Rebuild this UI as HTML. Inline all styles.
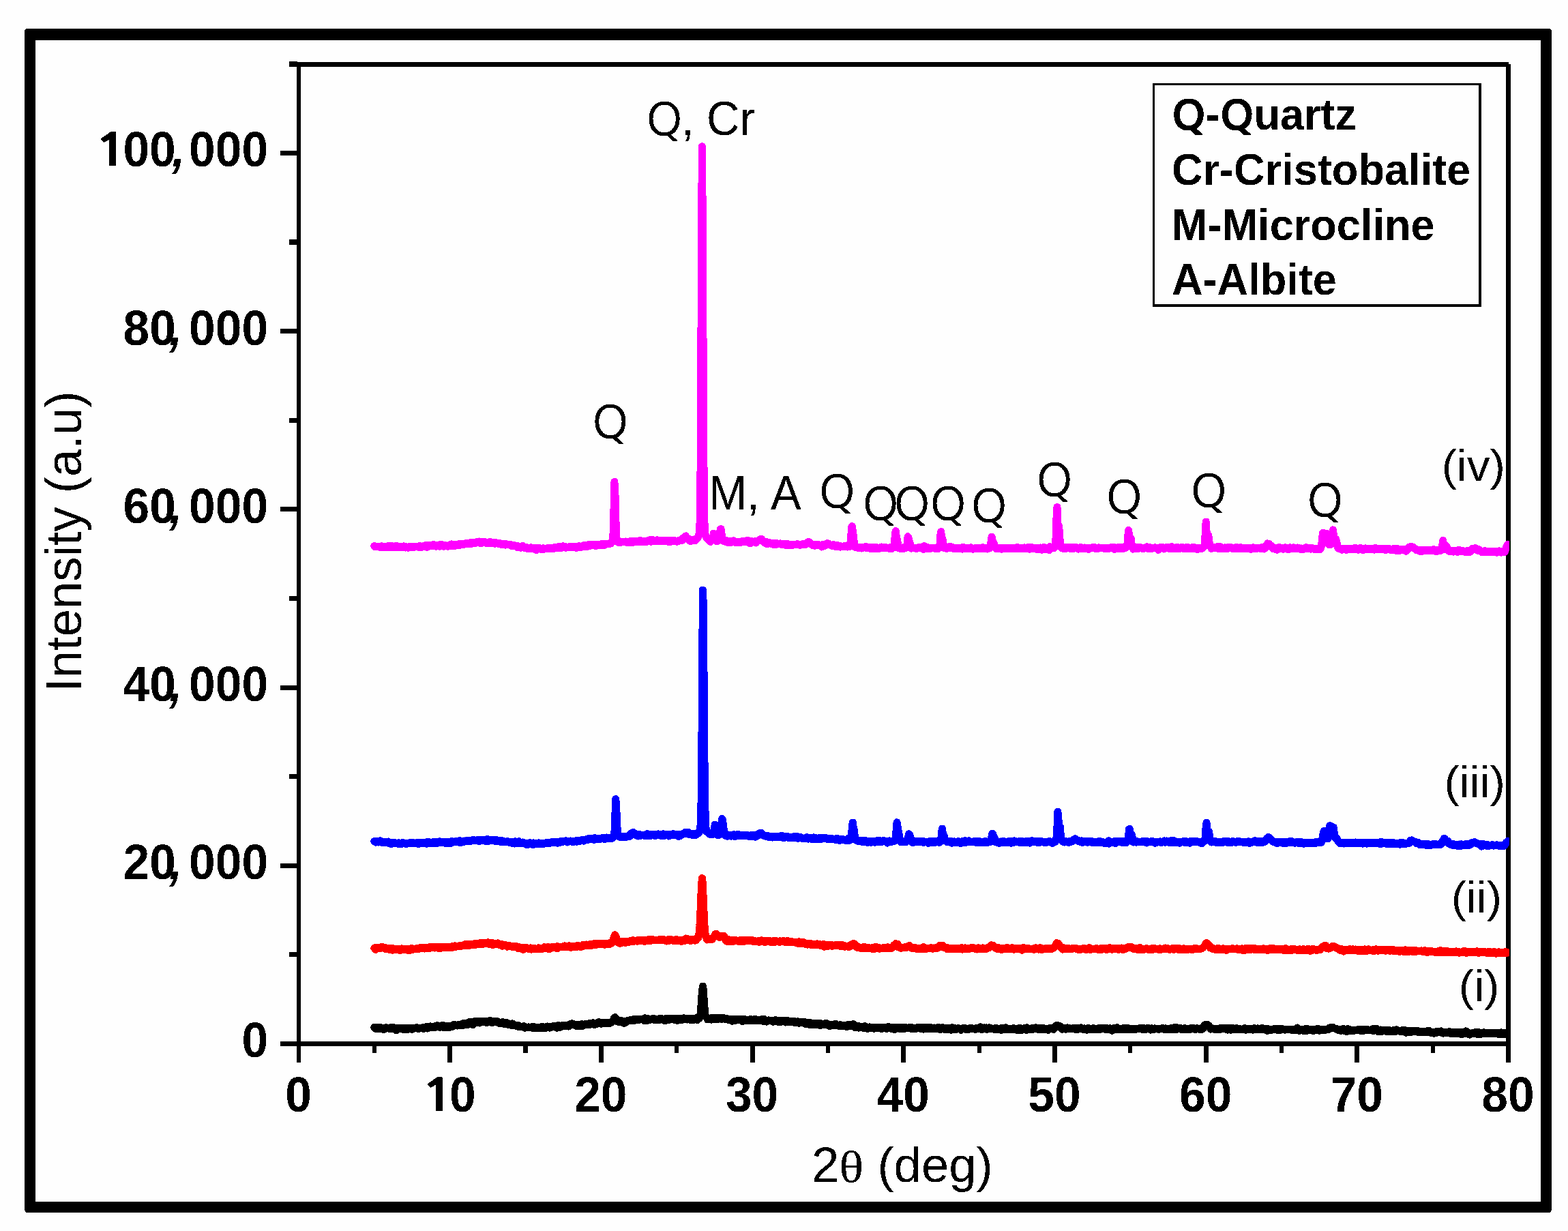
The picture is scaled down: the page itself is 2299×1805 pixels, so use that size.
<!DOCTYPE html>
<html lang="en"><head><meta charset="utf-8"><title>XRD patterns</title>
<style>
html,body{margin:0;padding:0;background:#fefefe;}
body{width:2299px;height:1805px;overflow:hidden;}
svg{display:block;}
text{font-family:"Liberation Sans",Arial,Helvetica,sans-serif;fill:#000;}
.b{font-weight:bold;}
.q{font-family:"NanumGothic","Liberation Sans",sans-serif;stroke:#000;stroke-width:0.8px;stroke-linejoin:round;}
.b .q{stroke-width:1.2px;}
.cm{font-style:italic;}
.one{font-family:"NanumGothic","Liberation Sans",sans-serif;stroke:#000;stroke-width:0.7px;}
.sym{font-family:"Liberation Serif","DejaVu Serif",serif;}
</style></head><body>
<svg width="2299" height="1805" viewBox="0 0 2299 1805">
<defs><clipPath id="plot"><rect x="430" y="80" width="1783" height="1500"/></clipPath>
<filter id="bin" x="0" y="0" width="2299" height="1805" filterUnits="userSpaceOnUse" color-interpolation-filters="sRGB"><feComponentTransfer><feFuncA type="discrete" tableValues="0 1"/></feComponentTransfer></filter></defs>
<rect x="0" y="0" width="2299" height="1805" fill="#fefefe"/>
<g filter="url(#bin)">
<path d="M41,42 H2270 Q2275,42 2275,47 V1773 Q2275,1778 2270,1778 H41 Q36,1778 36,1773 V47 Q36,42 41,42 Z M52,59 V1762 H2259 V59 Z" fill="#000" fill-rule="evenodd"/>
<g fill="#000">
<rect x="435" y="91" width="6" height="1467"/>
<rect x="411" y="1527" width="1804" height="7"/>
<rect x="424" y="91" width="1788" height="7"/>
<rect x="2208" y="94" width="7" height="1464"/>
<rect x="411" y="1527.0" width="25" height="7"/>
<rect x="424" y="1396.4" width="12" height="7"/>
<rect x="411" y="1265.8" width="25" height="7"/>
<rect x="424" y="1135.2" width="12" height="7"/>
<rect x="411" y="1004.6" width="25" height="7"/>
<rect x="424" y="874.0" width="12" height="7"/>
<rect x="411" y="743.3" width="25" height="7"/>
<rect x="424" y="612.7" width="12" height="7"/>
<rect x="411" y="482.1" width="25" height="7"/>
<rect x="424" y="351.5" width="12" height="7"/>
<rect x="411" y="220.9" width="25" height="7"/>
<rect x="424" y="90.3" width="12" height="7"/>
<rect x="545.8" y="1530" width="6" height="14"/>
<rect x="656.2" y="1530" width="7" height="28"/>
<rect x="767.5" y="1530" width="6" height="14"/>
<rect x="877.9" y="1530" width="7" height="28"/>
<rect x="989.2" y="1530" width="6" height="14"/>
<rect x="1099.6" y="1530" width="7" height="28"/>
<rect x="1210.9" y="1530" width="6" height="14"/>
<rect x="1321.3" y="1530" width="7" height="28"/>
<rect x="1432.6" y="1530" width="6" height="14"/>
<rect x="1543.0" y="1530" width="7" height="28"/>
<rect x="1654.3" y="1530" width="6" height="14"/>
<rect x="1764.6" y="1530" width="7" height="28"/>
<rect x="1876.0" y="1530" width="6" height="14"/>
<rect x="1986.3" y="1530" width="7" height="28"/>
<rect x="2097.7" y="1530" width="6" height="14"/>
<rect x="2208.0" y="1530" width="7" height="28"/>
</g>
<g fill="none" stroke-linejoin="round" stroke-linecap="round" clip-path="url(#plot)">
<path stroke="#000000" stroke-width="11" d="M548.8,1506.3 549.7,1507.6 550.6,1508.1 551.5,1506.9 552.4,1506.2 553.3,1507.3 554.2,1507.7 555.1,1508.3 555.9,1506.3 556.8,1506.3 557.7,1508.0 558.6,1507.8 559.5,1508.7 560.4,1508.3 561.3,1507.4 562.1,1507.3 563.0,1509.7 563.9,1507.3 564.8,1506.9 565.7,1506.6 566.6,1507.7 567.5,1507.8 568.4,1507.4 569.2,1507.6 570.1,1508.0 571.0,1508.3 571.9,1508.7 572.8,1508.0 573.7,1506.3 574.6,1508.5 575.4,1506.7 576.3,1507.8 577.2,1506.7 578.1,1508.0 579.0,1507.3 579.9,1508.2 580.8,1510.8 581.7,1508.0 582.5,1508.8 583.4,1507.0 584.3,1507.9 585.2,1508.7 586.1,1508.1 587.0,1508.5 587.9,1508.3 588.7,1507.3 589.6,1508.7 590.5,1507.5 591.4,1509.8 592.3,1507.8 593.2,1508.8 594.1,1508.2 595.0,1509.0 595.8,1507.7 596.7,1509.0 597.6,1508.0 598.5,1509.2 599.4,1508.6 600.3,1508.2 601.2,1507.4 602.1,1508.7 602.9,1508.4 603.8,1509.3 604.7,1507.5 605.6,1508.3 606.5,1508.2 607.4,1508.0 608.3,1507.8 609.1,1507.7 610.0,1507.0 610.9,1506.6 611.8,1507.1 612.7,1507.8 613.6,1508.5 614.5,1508.0 615.4,1508.0 616.2,1507.7 617.1,1507.5 618.0,1507.0 618.9,1507.4 619.8,1508.2 620.7,1506.3 621.6,1505.9 622.4,1508.1 623.3,1506.6 624.2,1507.1 625.1,1507.0 626.0,1505.2 626.9,1508.1 627.8,1507.5 628.7,1506.1 629.5,1506.5 630.4,1505.9 631.3,1505.0 632.2,1505.5 633.1,1505.9 634.0,1506.5 634.9,1506.1 635.7,1505.5 636.6,1506.5 637.5,1504.7 638.4,1505.9 639.3,1506.2 640.2,1504.9 641.1,1503.6 642.0,1504.3 642.8,1505.3 643.7,1505.5 644.6,1506.4 645.5,1504.2 646.4,1505.0 647.3,1505.6 648.2,1504.9 649.0,1503.0 649.9,1505.7 650.8,1506.9 651.7,1505.8 652.6,1504.2 653.5,1504.6 654.4,1505.1 655.3,1506.9 656.1,1505.3 657.0,1504.8 657.9,1506.0 658.8,1504.5 659.7,1506.1 660.6,1503.9 661.5,1503.9 662.4,1504.9 663.2,1505.4 664.1,1504.6 665.0,1504.2 665.9,1502.3 666.8,1503.1 667.7,1503.1 668.6,1503.1 669.4,1503.9 670.3,1503.0 671.2,1503.8 672.1,1503.1 673.0,1502.6 673.9,1502.8 674.8,1502.9 675.7,1503.2 676.5,1501.9 677.4,1502.0 678.3,1500.8 679.2,1503.2 680.1,1502.9 681.0,1501.4 681.9,1501.0 682.7,1500.2 683.6,1501.3 684.5,1501.1 685.4,1502.7 686.3,1500.9 687.2,1499.9 688.1,1498.3 689.0,1501.4 689.8,1500.3 690.7,1498.6 691.6,1500.0 692.5,1498.3 693.4,1502.5 694.3,1500.4 695.2,1499.8 696.0,1499.1 696.9,1497.3 697.8,1498.9 698.7,1497.6 699.6,1499.3 700.5,1496.9 701.4,1497.9 702.3,1499.6 703.1,1499.9 704.0,1497.4 704.9,1497.0 705.8,1499.0 706.7,1498.9 707.6,1497.3 708.5,1497.5 709.3,1497.5 710.2,1497.0 711.1,1497.5 712.0,1499.1 712.9,1498.6 713.8,1499.7 714.7,1497.9 715.6,1497.9 716.4,1497.2 717.3,1497.9 718.2,1497.0 719.1,1496.6 720.0,1498.7 720.9,1499.4 721.8,1499.0 722.6,1499.4 723.5,1498.6 724.4,1497.8 725.3,1498.6 726.2,1498.3 727.1,1497.8 728.0,1497.4 728.9,1497.7 729.7,1499.0 730.6,1499.3 731.5,1498.8 732.4,1500.6 733.3,1499.7 734.2,1500.1 735.1,1500.8 736.0,1499.2 736.8,1498.4 737.7,1500.8 738.6,1499.8 739.5,1501.6 740.4,1501.0 741.3,1501.7 742.2,1501.6 743.0,1499.4 743.9,1501.9 744.8,1500.9 745.7,1501.0 746.6,1501.5 747.5,1502.7 748.4,1502.9 749.3,1503.2 750.1,1501.1 751.0,1502.2 751.9,1500.9 752.8,1503.0 753.7,1503.7 754.6,1502.7 755.5,1503.8 756.3,1503.9 757.2,1504.7 758.1,1503.4 759.0,1503.5 759.9,1503.7 760.8,1506.0 761.7,1505.6 762.6,1504.7 763.4,1505.2 764.3,1505.2 765.2,1505.4 766.1,1505.2 767.0,1505.2 767.9,1504.6 768.8,1505.2 769.6,1507.3 770.5,1506.5 771.4,1506.2 772.3,1506.0 773.2,1506.4 774.1,1506.7 775.0,1505.9 775.9,1506.7 776.7,1506.8 777.6,1506.1 778.5,1506.1 779.4,1506.0 780.3,1506.0 781.2,1507.7 782.1,1504.9 782.9,1506.7 783.8,1506.5 784.7,1506.5 785.6,1507.1 786.5,1508.0 787.4,1507.1 788.3,1506.9 789.2,1506.5 790.0,1506.8 790.9,1507.7 791.8,1506.6 792.7,1505.9 793.6,1505.8 794.5,1505.9 795.4,1505.6 796.3,1507.6 797.1,1507.0 798.0,1506.4 798.9,1507.8 799.8,1505.9 800.7,1507.1 801.6,1507.0 802.5,1505.0 803.3,1504.9 804.2,1505.4 805.1,1506.8 806.0,1507.1 806.9,1504.9 807.8,1506.7 808.7,1505.4 809.6,1505.3 810.4,1505.1 811.3,1505.2 812.2,1503.9 813.1,1504.5 814.0,1504.2 814.9,1505.6 815.8,1506.9 816.6,1507.3 817.5,1504.7 818.4,1503.4 819.3,1504.5 820.2,1503.9 821.1,1506.3 822.0,1505.1 822.9,1503.9 823.7,1505.3 824.6,1504.9 825.5,1503.0 826.4,1503.8 827.3,1504.0 828.2,1504.2 829.1,1504.2 829.9,1503.8 830.8,1504.2 831.7,1503.5 832.6,1503.1 833.5,1505.0 834.4,1503.8 835.3,1503.6 836.2,1501.5 837.0,1502.3 837.9,1502.8 838.8,1500.7 839.7,1502.6 840.6,1501.5 841.5,1502.4 842.4,1502.3 843.2,1503.0 844.1,1504.1 845.0,1502.9 845.9,1504.7 846.8,1502.8 847.7,1502.6 848.6,1504.0 849.5,1502.4 850.3,1502.9 851.2,1503.9 852.1,1504.0 853.0,1501.4 853.9,1503.2 854.8,1504.3 855.7,1503.6 856.6,1502.3 857.4,1501.9 858.3,1502.0 859.2,1501.2 860.1,1501.8 861.0,1501.7 861.9,1501.7 862.8,1502.7 863.6,1501.3 864.5,1500.2 865.4,1502.2 866.3,1500.3 867.2,1500.7 868.1,1500.9 869.0,1500.6 869.9,1499.9 870.7,1500.5 871.6,1502.5 872.5,1500.0 873.4,1500.3 874.3,1501.3 875.2,1500.9 876.1,1500.9 876.9,1500.9 877.8,1498.5 878.7,1499.4 879.6,1500.2 880.5,1500.4 881.4,1501.1 882.3,1500.4 883.2,1499.8 884.0,1500.0 884.9,1499.8 885.8,1500.2 886.7,1500.5 887.6,1499.6 888.5,1499.2 889.4,1499.1 890.2,1500.7 891.1,1500.8 892.0,1500.5 892.9,1500.4 893.8,1500.3 894.7,1499.5 895.6,1499.9 896.5,1498.2 897.3,1498.4 898.2,1497.0 899.1,1496.6 900.0,1493.4 900.9,1491.9 901.8,1491.6 902.7,1493.3 903.5,1493.2 904.4,1494.9 905.3,1497.8 906.2,1496.9 907.1,1498.5 908.0,1497.7 908.9,1498.0 909.8,1496.5 910.6,1498.6 911.5,1497.5 912.4,1497.0 913.3,1499.5 914.2,1498.2 915.1,1500.5 916.0,1497.7 916.9,1497.0 917.7,1497.3 918.6,1498.4 919.5,1496.9 920.4,1497.2 921.3,1497.2 922.2,1495.9 923.1,1496.6 923.9,1496.0 924.8,1495.3 925.7,1497.0 926.6,1496.7 927.5,1496.1 928.4,1495.2 929.3,1494.2 930.2,1496.2 931.0,1495.6 931.9,1494.2 932.8,1495.5 933.7,1494.2 934.6,1495.4 935.5,1495.5 936.4,1495.6 937.2,1495.4 938.1,1495.3 939.0,1494.2 939.9,1494.8 940.8,1494.6 941.7,1494.8 942.6,1495.2 943.5,1495.5 944.3,1496.3 945.2,1492.7 946.1,1495.2 947.0,1494.7 947.9,1496.8 948.8,1495.7 949.7,1493.5 950.5,1495.2 951.4,1494.4 952.3,1495.7 953.2,1494.0 954.1,1494.8 955.0,1494.8 955.9,1494.8 956.8,1494.4 957.6,1493.3 958.5,1495.2 959.4,1495.7 960.3,1494.8 961.2,1494.0 962.1,1495.0 963.0,1495.3 963.8,1494.6 964.7,1494.8 965.6,1496.0 966.5,1493.8 967.4,1494.3 968.3,1493.1 969.2,1494.1 970.1,1494.1 970.9,1493.9 971.8,1494.1 972.7,1496.2 973.6,1494.5 974.5,1494.5 975.4,1496.5 976.3,1494.6 977.2,1493.1 978.0,1494.9 978.9,1493.8 979.8,1496.0 980.7,1493.5 981.6,1494.0 982.5,1493.1 983.4,1494.6 984.2,1493.6 985.1,1494.4 986.0,1494.1 986.9,1493.9 987.8,1495.2 988.7,1495.2 989.6,1494.4 990.5,1493.6 991.3,1493.5 992.2,1494.6 993.1,1496.4 994.0,1493.9 994.9,1493.6 995.8,1493.7 996.7,1493.3 997.5,1493.4 998.4,1494.1 999.3,1495.5 1000.2,1494.2 1001.1,1493.8 1002.0,1492.8 1002.9,1494.4 1003.8,1494.2 1004.6,1493.1 1005.5,1493.2 1006.4,1494.1 1007.3,1495.0 1008.2,1494.7 1009.1,1494.3 1010.0,1493.8 1010.8,1494.4 1011.7,1494.1 1012.6,1495.9 1013.5,1493.1 1014.4,1493.7 1015.3,1495.1 1016.2,1493.8 1017.1,1495.2 1017.9,1493.9 1018.8,1494.1 1019.7,1493.6 1020.6,1492.7 1021.5,1492.9 1022.4,1495.5 1023.3,1494.1 1024.1,1493.8 1025.0,1493.6 1025.9,1491.8 1026.8,1488.2 1027.7,1478.6 1028.6,1465.3 1029.5,1452.7 1030.4,1446.0 1031.2,1450.9 1032.1,1464.5 1033.0,1477.1 1033.9,1486.9 1034.8,1490.2 1035.7,1491.8 1036.6,1493.1 1037.4,1495.0 1038.3,1493.8 1039.2,1494.1 1040.1,1494.0 1041.0,1494.3 1041.9,1494.8 1042.8,1495.1 1043.7,1492.3 1044.5,1494.6 1045.4,1493.1 1046.3,1492.6 1047.2,1494.6 1048.1,1492.4 1049.0,1494.3 1049.9,1493.7 1050.8,1492.4 1051.6,1494.0 1052.5,1494.5 1053.4,1493.9 1054.3,1492.0 1055.2,1493.6 1056.1,1493.4 1057.0,1492.4 1057.8,1494.6 1058.7,1492.7 1059.6,1492.5 1060.5,1492.8 1061.4,1492.7 1062.3,1493.1 1063.2,1494.2 1064.1,1494.7 1064.9,1494.2 1065.8,1494.7 1066.7,1493.7 1067.6,1495.4 1068.5,1494.4 1069.4,1495.2 1070.3,1494.3 1071.1,1494.6 1072.0,1495.3 1072.9,1494.1 1073.8,1497.2 1074.7,1495.1 1075.6,1495.1 1076.5,1494.5 1077.4,1496.5 1078.2,1496.3 1079.1,1495.4 1080.0,1494.0 1080.9,1494.7 1081.8,1495.7 1082.7,1494.7 1083.6,1494.2 1084.4,1494.2 1085.3,1494.5 1086.2,1495.2 1087.1,1494.7 1088.0,1495.3 1088.9,1497.6 1089.8,1496.8 1090.7,1494.4 1091.5,1495.6 1092.4,1495.4 1093.3,1495.2 1094.2,1496.3 1095.1,1495.1 1096.0,1495.2 1096.9,1495.2 1097.7,1495.4 1098.6,1496.6 1099.5,1496.2 1100.4,1494.5 1101.3,1495.3 1102.2,1495.0 1103.1,1496.4 1104.0,1496.0 1104.8,1496.6 1105.7,1495.8 1106.6,1494.3 1107.5,1496.3 1108.4,1496.2 1109.3,1496.5 1110.2,1495.0 1111.1,1496.2 1111.9,1495.6 1112.8,1495.6 1113.7,1496.5 1114.6,1496.6 1115.5,1495.6 1116.4,1494.9 1117.3,1494.3 1118.1,1496.0 1119.0,1497.4 1119.9,1496.5 1120.8,1494.6 1121.7,1495.9 1122.6,1497.0 1123.5,1498.1 1124.4,1497.7 1125.2,1497.1 1126.1,1496.9 1127.0,1495.9 1127.9,1496.5 1128.8,1496.6 1129.7,1496.2 1130.6,1497.0 1131.4,1496.6 1132.3,1497.3 1133.2,1498.2 1134.1,1497.6 1135.0,1497.4 1135.9,1496.8 1136.8,1495.8 1137.7,1497.0 1138.5,1497.5 1139.4,1496.2 1140.3,1498.2 1141.2,1496.8 1142.1,1497.4 1143.0,1496.8 1143.9,1496.0 1144.7,1498.9 1145.6,1496.1 1146.5,1497.9 1147.4,1496.7 1148.3,1497.4 1149.2,1496.5 1150.1,1496.9 1151.0,1498.0 1151.8,1499.0 1152.7,1496.6 1153.6,1497.4 1154.5,1498.2 1155.4,1497.0 1156.3,1498.2 1157.2,1496.9 1158.0,1498.2 1158.9,1498.1 1159.8,1498.8 1160.7,1498.2 1161.6,1497.0 1162.5,1498.6 1163.4,1497.2 1164.3,1498.9 1165.1,1499.6 1166.0,1498.9 1166.9,1498.0 1167.8,1499.6 1168.7,1498.8 1169.6,1497.7 1170.5,1498.6 1171.4,1500.2 1172.2,1498.8 1173.1,1499.3 1174.0,1499.0 1174.9,1497.9 1175.8,1499.0 1176.7,1499.9 1177.6,1499.9 1178.4,1499.7 1179.3,1498.1 1180.2,1501.1 1181.1,1500.7 1182.0,1501.1 1182.9,1501.4 1183.8,1500.1 1184.7,1500.0 1185.5,1500.9 1186.4,1502.2 1187.3,1499.4 1188.2,1500.7 1189.1,1500.4 1190.0,1501.6 1190.9,1502.5 1191.7,1501.0 1192.6,1500.3 1193.5,1501.5 1194.4,1501.3 1195.3,1500.3 1196.2,1502.5 1197.1,1501.3 1198.0,1502.4 1198.8,1500.8 1199.7,1502.9 1200.6,1500.8 1201.5,1503.0 1202.4,1500.6 1203.3,1503.4 1204.2,1501.9 1205.0,1501.0 1205.9,1502.1 1206.8,1502.7 1207.7,1501.6 1208.6,1502.0 1209.5,1502.7 1210.4,1502.3 1211.3,1499.9 1212.1,1502.1 1213.0,1502.9 1213.9,1502.7 1214.8,1503.4 1215.7,1501.9 1216.6,1504.7 1217.5,1503.2 1218.3,1502.8 1219.2,1503.5 1220.1,1503.4 1221.0,1502.7 1221.9,1502.1 1222.8,1503.6 1223.7,1503.1 1224.6,1501.2 1225.4,1501.9 1226.3,1503.3 1227.2,1503.0 1228.1,1503.2 1229.0,1503.6 1229.9,1503.2 1230.8,1504.5 1231.7,1502.7 1232.5,1502.9 1233.4,1503.6 1234.3,1504.1 1235.2,1504.2 1236.1,1504.8 1237.0,1503.3 1237.9,1504.7 1238.7,1504.2 1239.6,1503.0 1240.5,1503.8 1241.4,1505.8 1242.3,1504.7 1243.2,1503.7 1244.1,1502.0 1245.0,1503.2 1245.8,1503.0 1246.7,1503.4 1247.6,1504.9 1248.5,1503.3 1249.4,1502.7 1250.3,1501.7 1251.2,1501.8 1252.0,1503.0 1252.9,1503.3 1253.8,1506.8 1254.7,1504.4 1255.6,1504.6 1256.5,1506.3 1257.4,1505.7 1258.3,1504.7 1259.1,1507.0 1260.0,1505.7 1260.9,1505.0 1261.8,1506.4 1262.7,1506.7 1263.6,1506.0 1264.5,1507.0 1265.3,1507.2 1266.2,1505.8 1267.1,1504.9 1268.0,1504.6 1268.9,1506.6 1269.8,1507.8 1270.7,1507.7 1271.6,1508.1 1272.4,1508.5 1273.3,1507.0 1274.2,1507.9 1275.1,1505.8 1276.0,1507.7 1276.9,1507.4 1277.8,1507.1 1278.6,1506.8 1279.5,1506.2 1280.4,1507.3 1281.3,1508.3 1282.2,1506.9 1283.1,1507.6 1284.0,1506.6 1284.9,1507.4 1285.7,1506.3 1286.6,1507.5 1287.5,1507.0 1288.4,1507.5 1289.3,1506.7 1290.2,1506.2 1291.1,1506.9 1291.9,1508.1 1292.8,1508.6 1293.7,1506.9 1294.6,1507.9 1295.5,1507.9 1296.4,1507.6 1297.3,1505.9 1298.2,1507.5 1299.0,1506.4 1299.9,1508.2 1300.8,1507.9 1301.7,1507.8 1302.6,1505.1 1303.5,1507.8 1304.4,1507.9 1305.3,1506.2 1306.1,1508.1 1307.0,1507.4 1307.9,1507.1 1308.8,1506.7 1309.7,1506.4 1310.6,1506.9 1311.5,1509.9 1312.3,1507.5 1313.2,1507.5 1314.1,1506.8 1315.0,1506.8 1315.9,1506.9 1316.8,1506.6 1317.7,1508.1 1318.6,1507.2 1319.4,1508.1 1320.3,1506.4 1321.2,1508.2 1322.1,1507.4 1323.0,1508.0 1323.9,1507.3 1324.8,1506.7 1325.6,1508.5 1326.5,1507.1 1327.4,1507.3 1328.3,1506.7 1329.2,1507.7 1330.1,1507.2 1331.0,1507.7 1331.9,1507.8 1332.7,1506.9 1333.6,1506.3 1334.5,1507.9 1335.4,1508.3 1336.3,1508.1 1337.2,1506.6 1338.1,1508.1 1338.9,1507.9 1339.8,1507.8 1340.7,1507.9 1341.6,1507.3 1342.5,1507.8 1343.4,1508.4 1344.3,1507.2 1345.2,1506.4 1346.0,1507.5 1346.9,1507.8 1347.8,1506.1 1348.7,1507.1 1349.6,1508.1 1350.5,1507.5 1351.4,1507.7 1352.2,1506.6 1353.1,1508.4 1354.0,1509.2 1354.9,1507.5 1355.8,1507.0 1356.7,1506.7 1357.6,1508.4 1358.5,1507.8 1359.3,1507.0 1360.2,1508.7 1361.1,1508.3 1362.0,1508.2 1362.9,1506.2 1363.8,1507.6 1364.7,1508.2 1365.6,1506.7 1366.4,1508.5 1367.3,1508.9 1368.2,1508.6 1369.1,1507.1 1370.0,1507.1 1370.9,1508.5 1371.8,1508.5 1372.6,1508.8 1373.5,1508.7 1374.4,1507.6 1375.3,1507.4 1376.2,1506.1 1377.1,1508.4 1378.0,1509.7 1378.9,1507.3 1379.7,1507.3 1380.6,1508.3 1381.5,1508.1 1382.4,1506.6 1383.3,1507.2 1384.2,1506.9 1385.1,1509.5 1385.9,1507.2 1386.8,1508.6 1387.7,1509.5 1388.6,1509.5 1389.5,1509.1 1390.4,1509.3 1391.3,1506.9 1392.2,1507.6 1393.0,1507.3 1393.9,1507.7 1394.8,1510.2 1395.7,1506.5 1396.6,1508.5 1397.5,1507.0 1398.4,1509.2 1399.2,1509.1 1400.1,1507.6 1401.0,1509.8 1401.9,1508.2 1402.8,1509.2 1403.7,1508.4 1404.6,1507.7 1405.5,1507.8 1406.3,1508.1 1407.2,1508.7 1408.1,1508.3 1409.0,1510.2 1409.9,1508.1 1410.8,1507.9 1411.7,1507.7 1412.5,1507.6 1413.4,1507.1 1414.3,1507.5 1415.2,1509.1 1416.1,1508.4 1417.0,1508.2 1417.9,1508.7 1418.8,1509.3 1419.6,1508.9 1420.5,1509.1 1421.4,1507.9 1422.3,1508.2 1423.2,1507.8 1424.1,1508.4 1425.0,1507.8 1425.9,1508.1 1426.7,1508.3 1427.6,1508.3 1428.5,1508.3 1429.4,1508.1 1430.3,1509.6 1431.2,1508.2 1432.1,1507.6 1432.9,1508.7 1433.8,1507.6 1434.7,1507.6 1435.6,1508.6 1436.5,1507.1 1437.4,1505.8 1438.3,1508.7 1439.2,1509.4 1440.0,1507.1 1440.9,1507.7 1441.8,1509.0 1442.7,1506.8 1443.6,1507.8 1444.5,1507.5 1445.4,1508.3 1446.2,1506.8 1447.1,1509.3 1448.0,1508.4 1448.9,1508.8 1449.8,1508.2 1450.7,1506.7 1451.6,1508.4 1452.5,1507.4 1453.3,1508.5 1454.2,1507.8 1455.1,1508.2 1456.0,1508.3 1456.9,1509.2 1457.8,1509.2 1458.7,1507.6 1459.5,1508.5 1460.4,1509.7 1461.3,1508.9 1462.2,1507.9 1463.1,1508.4 1464.0,1508.2 1464.9,1509.3 1465.8,1508.5 1466.6,1508.8 1467.5,1510.4 1468.4,1507.3 1469.3,1507.6 1470.2,1507.0 1471.1,1507.1 1472.0,1509.2 1472.8,1508.7 1473.7,1509.9 1474.6,1506.8 1475.5,1507.8 1476.4,1509.7 1477.3,1509.4 1478.2,1509.3 1479.1,1509.2 1479.9,1508.5 1480.8,1508.5 1481.7,1508.5 1482.6,1509.2 1483.5,1508.4 1484.4,1508.8 1485.3,1509.7 1486.2,1507.5 1487.0,1507.9 1487.9,1509.0 1488.8,1508.3 1489.7,1508.4 1490.6,1510.3 1491.5,1508.9 1492.4,1508.1 1493.2,1509.4 1494.1,1510.6 1495.0,1507.6 1495.9,1507.9 1496.8,1508.6 1497.7,1508.0 1498.6,1510.3 1499.5,1508.9 1500.3,1508.2 1501.2,1508.9 1502.1,1507.8 1503.0,1508.0 1503.9,1508.6 1504.8,1510.5 1505.7,1506.6 1506.5,1508.9 1507.4,1509.6 1508.3,1509.1 1509.2,1510.1 1510.1,1508.9 1511.0,1508.6 1511.9,1508.4 1512.8,1507.8 1513.6,1509.9 1514.5,1507.5 1515.4,1508.4 1516.3,1508.0 1517.2,1507.8 1518.1,1506.6 1519.0,1508.2 1519.8,1508.6 1520.7,1508.6 1521.6,1509.2 1522.5,1508.3 1523.4,1507.9 1524.3,1508.7 1525.2,1509.0 1526.1,1507.7 1526.9,1507.2 1527.8,1507.6 1528.7,1509.4 1529.6,1509.3 1530.5,1507.7 1531.4,1508.6 1532.3,1509.2 1533.1,1509.6 1534.0,1507.9 1534.9,1508.3 1535.8,1509.7 1536.7,1510.5 1537.6,1509.7 1538.5,1507.5 1539.4,1508.8 1540.2,1508.2 1541.1,1508.3 1542.0,1507.8 1542.9,1507.9 1543.8,1508.1 1544.7,1509.4 1545.6,1508.0 1546.5,1507.0 1547.3,1505.7 1548.2,1503.9 1549.1,1503.3 1550.0,1503.9 1550.9,1503.6 1551.8,1505.0 1552.7,1504.3 1553.5,1505.1 1554.4,1504.7 1555.3,1507.2 1556.2,1506.0 1557.1,1509.2 1558.0,1507.6 1558.9,1508.3 1559.8,1507.2 1560.6,1508.0 1561.5,1507.6 1562.4,1509.4 1563.3,1508.6 1564.2,1507.4 1565.1,1506.8 1566.0,1508.4 1566.8,1508.0 1567.7,1507.5 1568.6,1509.0 1569.5,1508.3 1570.4,1508.6 1571.3,1508.0 1572.2,1508.0 1573.1,1508.1 1573.9,1507.1 1574.8,1509.0 1575.7,1508.8 1576.6,1507.0 1577.5,1508.6 1578.4,1509.5 1579.3,1508.7 1580.1,1509.6 1581.0,1508.3 1581.9,1508.5 1582.8,1507.4 1583.7,1507.7 1584.6,1506.9 1585.5,1507.7 1586.4,1508.7 1587.2,1508.9 1588.1,1509.5 1589.0,1508.6 1589.9,1507.7 1590.8,1508.9 1591.7,1508.4 1592.6,1510.0 1593.4,1510.2 1594.3,1509.3 1595.2,1507.5 1596.1,1508.0 1597.0,1508.7 1597.9,1507.9 1598.8,1508.9 1599.7,1509.1 1600.5,1509.2 1601.4,1508.7 1602.3,1507.7 1603.2,1507.8 1604.1,1508.4 1605.0,1509.6 1605.9,1509.8 1606.7,1509.3 1607.6,1508.8 1608.5,1509.1 1609.4,1509.2 1610.3,1509.6 1611.2,1509.2 1612.1,1507.2 1613.0,1509.3 1613.8,1508.8 1614.7,1508.1 1615.6,1508.9 1616.5,1508.7 1617.4,1508.5 1618.3,1507.1 1619.2,1508.6 1620.1,1509.0 1620.9,1508.5 1621.8,1507.1 1622.7,1508.9 1623.6,1509.1 1624.5,1508.7 1625.4,1508.9 1626.3,1508.2 1627.1,1507.9 1628.0,1508.9 1628.9,1508.2 1629.8,1508.7 1630.7,1511.3 1631.6,1509.1 1632.5,1508.6 1633.4,1507.1 1634.2,1508.6 1635.1,1509.1 1636.0,1507.9 1636.9,1508.3 1637.8,1506.6 1638.7,1509.0 1639.6,1508.0 1640.4,1509.1 1641.3,1509.7 1642.2,1508.4 1643.1,1509.3 1644.0,1508.7 1644.9,1508.3 1645.8,1508.3 1646.7,1507.8 1647.5,1509.6 1648.4,1509.2 1649.3,1507.6 1650.2,1509.2 1651.1,1507.9 1652.0,1507.2 1652.9,1509.5 1653.7,1507.4 1654.6,1509.5 1655.5,1508.7 1656.4,1509.3 1657.3,1508.9 1658.2,1509.5 1659.1,1508.8 1660.0,1509.0 1660.8,1508.7 1661.7,1509.4 1662.6,1508.2 1663.5,1509.4 1664.4,1509.8 1665.3,1508.4 1666.2,1508.9 1667.0,1508.1 1667.9,1508.3 1668.8,1508.7 1669.7,1508.2 1670.6,1507.7 1671.5,1508.5 1672.4,1508.7 1673.3,1508.8 1674.1,1509.1 1675.0,1507.0 1675.9,1509.7 1676.8,1508.4 1677.7,1507.8 1678.6,1508.2 1679.5,1508.9 1680.4,1509.2 1681.2,1508.2 1682.1,1508.6 1683.0,1507.1 1683.9,1508.6 1684.8,1508.4 1685.7,1508.1 1686.6,1509.3 1687.4,1510.0 1688.3,1509.4 1689.2,1507.8 1690.1,1509.8 1691.0,1508.2 1691.9,1508.5 1692.8,1508.0 1693.7,1508.9 1694.5,1509.0 1695.4,1508.6 1696.3,1508.3 1697.2,1508.4 1698.1,1508.2 1699.0,1509.3 1699.9,1508.1 1700.7,1508.4 1701.6,1508.3 1702.5,1507.9 1703.4,1508.3 1704.3,1507.3 1705.2,1508.8 1706.1,1509.0 1707.0,1508.2 1707.8,1509.8 1708.7,1507.8 1709.6,1509.0 1710.5,1508.9 1711.4,1508.0 1712.3,1508.3 1713.2,1509.3 1714.0,1508.5 1714.9,1508.7 1715.8,1509.7 1716.7,1508.7 1717.6,1507.1 1718.5,1507.9 1719.4,1509.2 1720.3,1508.4 1721.1,1507.6 1722.0,1506.8 1722.9,1508.8 1723.8,1509.8 1724.7,1507.4 1725.6,1506.7 1726.5,1508.9 1727.3,1508.0 1728.2,1508.2 1729.1,1508.2 1730.0,1507.7 1730.9,1508.9 1731.8,1509.3 1732.7,1508.8 1733.6,1508.0 1734.4,1509.4 1735.3,1508.4 1736.2,1509.0 1737.1,1507.7 1738.0,1509.0 1738.9,1509.1 1739.8,1509.6 1740.7,1508.5 1741.5,1508.9 1742.4,1508.0 1743.3,1509.2 1744.2,1509.1 1745.1,1509.4 1746.0,1508.2 1746.9,1507.4 1747.7,1508.4 1748.6,1508.3 1749.5,1507.8 1750.4,1509.0 1751.3,1509.3 1752.2,1508.8 1753.1,1509.4 1754.0,1508.8 1754.8,1507.6 1755.7,1507.9 1756.6,1508.1 1757.5,1509.0 1758.4,1509.2 1759.3,1508.5 1760.2,1509.2 1761.0,1507.6 1761.9,1508.1 1762.8,1509.2 1763.7,1507.8 1764.6,1507.6 1765.5,1504.0 1766.4,1503.0 1767.3,1502.5 1768.1,1503.3 1769.0,1503.7 1769.9,1502.2 1770.8,1502.6 1771.7,1503.3 1772.6,1504.3 1773.5,1506.4 1774.3,1506.5 1775.2,1509.0 1776.1,1508.5 1777.0,1507.5 1777.9,1508.5 1778.8,1508.2 1779.7,1509.1 1780.6,1509.2 1781.4,1508.1 1782.3,1509.2 1783.2,1508.9 1784.1,1508.4 1785.0,1508.7 1785.9,1509.1 1786.8,1508.2 1787.6,1507.9 1788.5,1509.6 1789.4,1508.5 1790.3,1508.0 1791.2,1508.9 1792.1,1507.3 1793.0,1508.6 1793.9,1507.4 1794.7,1508.2 1795.6,1507.1 1796.5,1508.0 1797.4,1509.3 1798.3,1508.4 1799.2,1507.6 1800.1,1510.0 1801.0,1508.1 1801.8,1509.8 1802.7,1508.2 1803.6,1507.4 1804.5,1510.2 1805.4,1508.3 1806.3,1509.3 1807.2,1509.6 1808.0,1507.6 1808.9,1508.7 1809.8,1508.2 1810.7,1509.2 1811.6,1508.7 1812.5,1507.6 1813.4,1508.7 1814.3,1509.3 1815.1,1508.5 1816.0,1509.2 1816.9,1508.3 1817.8,1508.7 1818.7,1509.0 1819.6,1508.9 1820.5,1509.8 1821.3,1509.6 1822.2,1509.5 1823.1,1509.4 1824.0,1508.9 1824.9,1507.8 1825.8,1509.7 1826.7,1510.3 1827.6,1509.0 1828.4,1508.6 1829.3,1508.8 1830.2,1509.9 1831.1,1509.1 1832.0,1508.1 1832.9,1508.8 1833.8,1508.3 1834.6,1508.7 1835.5,1508.2 1836.4,1508.2 1837.3,1510.2 1838.2,1509.8 1839.1,1507.6 1840.0,1508.2 1840.9,1508.6 1841.7,1508.7 1842.6,1507.9 1843.5,1509.8 1844.4,1507.7 1845.3,1509.6 1846.2,1509.6 1847.1,1508.8 1847.9,1508.5 1848.8,1509.1 1849.7,1509.2 1850.6,1507.4 1851.5,1508.1 1852.4,1509.6 1853.3,1509.1 1854.2,1508.8 1855.0,1508.3 1855.9,1508.6 1856.8,1508.6 1857.7,1511.5 1858.6,1508.2 1859.5,1510.5 1860.4,1509.6 1861.2,1509.4 1862.1,1509.4 1863.0,1509.0 1863.9,1510.6 1864.8,1509.7 1865.7,1509.3 1866.6,1509.2 1867.5,1509.5 1868.3,1508.4 1869.2,1509.1 1870.1,1508.9 1871.0,1509.9 1871.9,1509.9 1872.8,1507.9 1873.7,1509.2 1874.6,1510.3 1875.4,1508.4 1876.3,1508.5 1877.2,1510.3 1878.1,1509.4 1879.0,1509.1 1879.9,1508.5 1880.8,1509.7 1881.6,1509.1 1882.5,1509.7 1883.4,1509.9 1884.3,1510.2 1885.2,1509.3 1886.1,1509.2 1887.0,1509.6 1887.9,1509.5 1888.7,1509.8 1889.6,1509.2 1890.5,1509.5 1891.4,1509.2 1892.3,1509.2 1893.2,1509.8 1894.1,1510.7 1894.9,1509.3 1895.8,1510.2 1896.7,1510.0 1897.6,1509.9 1898.5,1510.3 1899.4,1509.3 1900.3,1510.3 1901.2,1510.1 1902.0,1506.9 1902.9,1510.1 1903.8,1510.3 1904.7,1511.5 1905.6,1509.0 1906.5,1510.0 1907.4,1510.2 1908.2,1509.1 1909.1,1510.9 1910.0,1510.3 1910.9,1509.3 1911.8,1509.0 1912.7,1509.6 1913.6,1511.9 1914.5,1511.8 1915.3,1507.9 1916.2,1508.5 1917.1,1510.6 1918.0,1509.9 1918.9,1509.5 1919.8,1510.5 1920.7,1510.1 1921.5,1510.3 1922.4,1510.3 1923.3,1509.2 1924.2,1511.2 1925.1,1509.7 1926.0,1511.1 1926.9,1510.7 1927.8,1510.2 1928.6,1510.3 1929.5,1510.1 1930.4,1508.6 1931.3,1509.9 1932.2,1510.5 1933.1,1508.8 1934.0,1508.9 1934.9,1511.1 1935.7,1510.9 1936.6,1508.9 1937.5,1510.6 1938.4,1510.2 1939.3,1511.0 1940.2,1509.9 1941.1,1510.0 1941.9,1509.6 1942.8,1510.3 1943.7,1510.1 1944.6,1509.6 1945.5,1509.7 1946.4,1509.2 1947.3,1510.0 1948.2,1508.1 1949.0,1507.1 1949.9,1506.9 1950.8,1508.0 1951.7,1506.2 1952.6,1506.9 1953.5,1507.1 1954.4,1506.3 1955.2,1507.7 1956.1,1507.9 1957.0,1507.9 1957.9,1507.9 1958.8,1508.9 1959.7,1508.3 1960.6,1509.5 1961.5,1509.5 1962.3,1510.5 1963.2,1510.5 1964.1,1509.8 1965.0,1511.1 1965.9,1511.4 1966.8,1510.4 1967.7,1509.8 1968.5,1510.8 1969.4,1508.4 1970.3,1509.9 1971.2,1510.9 1972.1,1512.1 1973.0,1509.8 1973.9,1511.7 1974.8,1512.4 1975.6,1512.0 1976.5,1508.5 1977.4,1511.4 1978.3,1510.6 1979.2,1511.3 1980.1,1510.3 1981.0,1510.0 1981.8,1510.3 1982.7,1511.7 1983.6,1511.2 1984.5,1510.2 1985.4,1510.8 1986.3,1511.2 1987.2,1511.0 1988.1,1510.5 1988.9,1509.9 1989.8,1509.9 1990.7,1510.1 1991.6,1510.0 1992.5,1509.2 1993.4,1509.3 1994.3,1511.2 1995.2,1509.6 1996.0,1509.4 1996.9,1510.5 1997.8,1511.7 1998.7,1511.6 1999.6,1510.2 2000.5,1509.7 2001.4,1510.1 2002.2,1509.8 2003.1,1510.1 2004.0,1511.0 2004.9,1509.7 2005.8,1509.9 2006.7,1510.4 2007.6,1510.6 2008.5,1510.0 2009.3,1510.0 2010.2,1509.7 2011.1,1510.0 2012.0,1511.1 2012.9,1510.5 2013.8,1508.1 2014.7,1511.2 2015.5,1510.7 2016.4,1510.0 2017.3,1510.5 2018.2,1508.2 2019.1,1509.4 2020.0,1511.8 2020.9,1512.6 2021.8,1512.7 2022.6,1510.2 2023.5,1510.9 2024.4,1511.5 2025.3,1509.9 2026.2,1512.4 2027.1,1510.3 2028.0,1511.3 2028.8,1510.0 2029.7,1511.3 2030.6,1511.0 2031.5,1512.0 2032.4,1510.1 2033.3,1511.1 2034.2,1512.7 2035.1,1510.1 2035.9,1511.5 2036.8,1511.6 2037.7,1510.8 2038.6,1511.0 2039.5,1512.5 2040.4,1512.3 2041.3,1511.8 2042.1,1511.6 2043.0,1510.4 2043.9,1511.5 2044.8,1512.9 2045.7,1512.3 2046.6,1510.3 2047.5,1509.7 2048.4,1511.0 2049.2,1511.7 2050.1,1511.1 2051.0,1511.4 2051.9,1511.9 2052.8,1512.4 2053.7,1511.9 2054.6,1512.8 2055.5,1510.6 2056.3,1512.2 2057.2,1512.2 2058.1,1510.6 2059.0,1513.0 2059.9,1510.6 2060.8,1510.7 2061.7,1514.3 2062.5,1513.1 2063.4,1512.4 2064.3,1513.2 2065.2,1513.1 2066.1,1511.2 2067.0,1512.6 2067.9,1513.4 2068.8,1512.1 2069.6,1512.3 2070.5,1511.9 2071.4,1513.0 2072.3,1511.9 2073.2,1511.9 2074.1,1511.4 2075.0,1511.7 2075.8,1512.7 2076.7,1512.9 2077.6,1512.2 2078.5,1511.7 2079.4,1512.9 2080.3,1513.0 2081.2,1513.8 2082.1,1512.3 2082.9,1512.4 2083.8,1513.2 2084.7,1514.1 2085.6,1512.8 2086.5,1512.8 2087.4,1512.1 2088.3,1512.6 2089.1,1513.8 2090.0,1513.8 2090.9,1514.0 2091.8,1511.7 2092.7,1513.8 2093.6,1512.4 2094.5,1513.7 2095.4,1511.2 2096.2,1513.2 2097.1,1512.5 2098.0,1514.4 2098.9,1513.4 2099.8,1514.5 2100.7,1513.0 2101.6,1515.1 2102.4,1513.1 2103.3,1515.1 2104.2,1513.1 2105.1,1512.7 2106.0,1514.4 2106.9,1513.3 2107.8,1513.6 2108.7,1512.5 2109.5,1513.4 2110.4,1513.8 2111.3,1513.1 2112.2,1514.1 2113.1,1511.8 2114.0,1514.6 2114.9,1513.5 2115.7,1515.1 2116.6,1513.6 2117.5,1513.4 2118.4,1513.6 2119.3,1514.2 2120.2,1514.5 2121.1,1513.6 2122.0,1513.4 2122.8,1514.5 2123.7,1514.8 2124.6,1512.6 2125.5,1513.3 2126.4,1513.6 2127.3,1515.7 2128.2,1515.3 2129.1,1514.9 2129.9,1514.7 2130.8,1513.3 2131.7,1515.3 2132.6,1513.9 2133.5,1513.7 2134.4,1516.0 2135.3,1513.1 2136.1,1515.6 2137.0,1514.6 2137.9,1513.6 2138.8,1514.6 2139.7,1513.7 2140.6,1514.6 2141.5,1513.9 2142.4,1513.5 2143.2,1516.8 2144.1,1514.1 2145.0,1515.4 2145.9,1514.5 2146.8,1515.1 2147.7,1513.5 2148.6,1513.7 2149.4,1511.8 2150.3,1515.5 2151.2,1515.0 2152.1,1513.6 2153.0,1515.4 2153.9,1515.2 2154.8,1517.2 2155.7,1514.9 2156.5,1515.5 2157.4,1515.2 2158.3,1515.3 2159.2,1514.7 2160.1,1514.3 2161.0,1515.3 2161.9,1515.8 2162.7,1513.7 2163.6,1513.7 2164.5,1514.7 2165.4,1516.3 2166.3,1514.5 2167.2,1513.2 2168.1,1515.4 2169.0,1515.4 2169.8,1516.4 2170.7,1514.9 2171.6,1516.4 2172.5,1514.1 2173.4,1515.5 2174.3,1514.9 2175.2,1513.7 2176.0,1514.5 2176.9,1515.9 2177.8,1515.8 2178.7,1514.5 2179.6,1515.8 2180.5,1515.6 2181.4,1515.7 2182.3,1515.2 2183.1,1515.2 2184.0,1514.2 2184.9,1514.9 2185.8,1515.1 2186.7,1514.4 2187.6,1514.8 2188.5,1515.2 2189.4,1515.3 2190.2,1516.0 2191.1,1514.3 2192.0,1514.8 2192.9,1515.4 2193.8,1514.9 2194.7,1515.5 2195.6,1514.9 2196.4,1516.3 2197.3,1515.1 2198.2,1514.4 2199.1,1516.0 2200.0,1516.8 2200.9,1513.7 2201.8,1515.3 2202.7,1515.5 2203.5,1516.3 2204.4,1516.7 2205.3,1515.3 2206.2,1514.1 2207.1,1516.1 2208.0,1516.4"/>
<path stroke="#ff0000" stroke-width="11" d="M548.8,1390.1 549.7,1389.6 550.6,1392.4 551.5,1390.1 552.4,1389.9 553.3,1390.1 554.2,1389.4 555.1,1389.3 555.9,1390.3 556.8,1389.5 557.7,1390.6 558.6,1389.8 559.5,1388.6 560.4,1389.1 561.3,1389.5 562.1,1388.7 563.0,1390.2 563.9,1390.1 564.8,1391.2 565.7,1389.8 566.6,1390.4 567.5,1391.1 568.4,1391.3 569.2,1390.0 570.1,1392.1 571.0,1390.5 571.9,1392.0 572.8,1390.9 573.7,1390.8 574.6,1390.3 575.4,1391.2 576.3,1393.3 577.2,1390.9 578.1,1392.7 579.0,1392.6 579.9,1391.3 580.8,1392.6 581.7,1392.8 582.5,1391.5 583.4,1391.4 584.3,1392.7 585.2,1392.2 586.1,1393.6 587.0,1392.3 587.9,1391.1 588.7,1391.9 589.6,1391.1 590.5,1392.6 591.4,1392.6 592.3,1391.7 593.2,1391.3 594.1,1392.7 595.0,1391.7 595.8,1392.9 596.7,1391.2 597.6,1391.7 598.5,1391.4 599.4,1391.0 600.3,1394.0 601.2,1393.1 602.1,1391.2 602.9,1392.3 603.8,1390.2 604.7,1392.6 605.6,1392.4 606.5,1391.2 607.4,1391.2 608.3,1391.6 609.1,1391.7 610.0,1391.0 610.9,1390.5 611.8,1390.9 612.7,1390.7 613.6,1391.6 614.5,1391.0 615.4,1391.1 616.2,1389.5 617.1,1390.4 618.0,1390.3 618.9,1390.2 619.8,1390.4 620.7,1390.2 621.6,1389.2 622.4,1391.0 623.3,1390.9 624.2,1389.7 625.1,1390.6 626.0,1389.3 626.9,1389.0 627.8,1389.7 628.7,1391.0 629.5,1389.7 630.4,1388.5 631.3,1389.8 632.2,1389.1 633.1,1389.0 634.0,1389.7 634.9,1388.0 635.7,1388.0 636.6,1388.2 637.5,1390.1 638.4,1389.3 639.3,1388.7 640.2,1388.6 641.1,1389.7 642.0,1390.1 642.8,1388.5 643.7,1389.3 644.6,1390.9 645.5,1389.5 646.4,1388.8 647.3,1389.3 648.2,1389.1 649.0,1389.6 649.9,1389.3 650.8,1388.6 651.7,1388.9 652.6,1389.3 653.5,1388.4 654.4,1389.0 655.3,1388.2 656.1,1389.8 657.0,1390.0 657.9,1388.1 658.8,1389.4 659.7,1388.8 660.6,1388.6 661.5,1388.3 662.4,1388.6 663.2,1389.1 664.1,1387.3 665.0,1389.0 665.9,1387.9 666.8,1387.1 667.7,1387.9 668.6,1388.3 669.4,1387.6 670.3,1387.8 671.2,1387.2 672.1,1387.0 673.0,1388.1 673.9,1386.4 674.8,1387.8 675.7,1387.2 676.5,1386.6 677.4,1386.5 678.3,1386.3 679.2,1386.4 680.1,1386.3 681.0,1386.1 681.9,1384.6 682.7,1384.3 683.6,1386.1 684.5,1385.2 685.4,1385.2 686.3,1385.4 687.2,1384.5 688.1,1386.5 689.0,1385.1 689.8,1384.9 690.7,1384.1 691.6,1385.5 692.5,1385.3 693.4,1385.8 694.3,1385.2 695.2,1383.8 696.0,1383.4 696.9,1385.3 697.8,1383.7 698.7,1384.0 699.6,1383.9 700.5,1384.4 701.4,1384.3 702.3,1383.1 703.1,1383.3 704.0,1382.4 704.9,1384.1 705.8,1383.5 706.7,1382.3 707.6,1384.4 708.5,1383.6 709.3,1382.8 710.2,1383.2 711.1,1383.1 712.0,1383.6 712.9,1383.7 713.8,1383.1 714.7,1383.9 715.6,1381.6 716.4,1383.4 717.3,1384.2 718.2,1384.4 719.1,1384.4 720.0,1383.0 720.9,1382.5 721.8,1383.6 722.6,1385.7 723.5,1384.2 724.4,1383.5 725.3,1382.9 726.2,1384.4 727.1,1384.0 728.0,1384.8 728.9,1384.7 729.7,1382.8 730.6,1384.7 731.5,1385.5 732.4,1384.5 733.3,1384.2 734.2,1384.3 735.1,1384.3 736.0,1387.1 736.8,1386.7 737.7,1385.2 738.6,1386.9 739.5,1385.2 740.4,1385.7 741.3,1385.7 742.2,1386.3 743.0,1387.1 743.9,1388.3 744.8,1387.4 745.7,1386.9 746.6,1387.3 747.5,1387.1 748.4,1387.7 749.3,1386.9 750.1,1387.9 751.0,1388.2 751.9,1388.7 752.8,1387.5 753.7,1388.6 754.6,1388.7 755.5,1388.0 756.3,1387.2 757.2,1388.4 758.1,1389.7 759.0,1388.9 759.9,1391.0 760.8,1389.8 761.7,1388.9 762.6,1389.5 763.4,1390.1 764.3,1390.2 765.2,1389.7 766.1,1390.4 767.0,1392.4 767.9,1390.9 768.8,1390.4 769.6,1390.0 770.5,1389.1 771.4,1390.7 772.3,1390.3 773.2,1390.6 774.1,1390.3 775.0,1391.4 775.9,1391.7 776.7,1390.4 777.6,1389.9 778.5,1391.2 779.4,1392.0 780.3,1391.3 781.2,1391.4 782.1,1390.0 782.9,1390.6 783.8,1391.5 784.7,1391.3 785.6,1391.0 786.5,1391.4 787.4,1391.6 788.3,1391.0 789.2,1390.4 790.0,1389.8 790.9,1391.0 791.8,1390.7 792.7,1390.7 793.6,1391.6 794.5,1390.2 795.4,1390.4 796.3,1391.1 797.1,1389.9 798.0,1388.8 798.9,1390.0 799.8,1391.0 800.7,1389.8 801.6,1390.0 802.5,1388.7 803.3,1391.0 804.2,1388.7 805.1,1389.4 806.0,1389.7 806.9,1391.3 807.8,1389.8 808.7,1389.1 809.6,1388.4 810.4,1389.2 811.3,1388.5 812.2,1388.9 813.1,1389.3 814.0,1390.1 814.9,1388.3 815.8,1390.1 816.6,1387.5 817.5,1390.4 818.4,1388.3 819.3,1388.5 820.2,1388.3 821.1,1388.8 822.0,1388.5 822.9,1388.3 823.7,1387.9 824.6,1388.0 825.5,1388.4 826.4,1387.9 827.3,1387.7 828.2,1387.1 829.1,1388.2 829.9,1388.5 830.8,1387.3 831.7,1388.9 832.6,1388.0 833.5,1388.1 834.4,1386.7 835.3,1388.5 836.2,1389.0 837.0,1389.5 837.9,1387.5 838.8,1388.0 839.7,1388.5 840.6,1388.4 841.5,1387.4 842.4,1387.9 843.2,1388.6 844.1,1388.2 845.0,1387.7 845.9,1388.4 846.8,1386.4 847.7,1387.8 848.6,1386.9 849.5,1387.0 850.3,1387.8 851.2,1388.4 852.1,1387.3 853.0,1387.0 853.9,1388.0 854.8,1387.2 855.7,1384.9 856.6,1386.0 857.4,1385.8 858.3,1385.6 859.2,1384.9 860.1,1386.4 861.0,1385.9 861.9,1387.0 862.8,1385.3 863.6,1385.5 864.5,1384.7 865.4,1385.9 866.3,1386.0 867.2,1386.2 868.1,1385.6 869.0,1384.3 869.9,1385.5 870.7,1383.8 871.6,1383.9 872.5,1384.2 873.4,1385.8 874.3,1383.6 875.2,1383.3 876.1,1384.2 876.9,1384.8 877.8,1384.3 878.7,1384.2 879.6,1383.2 880.5,1383.5 881.4,1384.7 882.3,1383.8 883.2,1383.2 884.0,1383.4 884.9,1384.7 885.8,1385.0 886.7,1384.0 887.6,1383.0 888.5,1384.9 889.4,1383.1 890.2,1383.6 891.1,1383.8 892.0,1383.4 892.9,1383.2 893.8,1384.5 894.7,1383.4 895.6,1381.9 896.5,1382.2 897.3,1382.9 898.2,1380.2 899.1,1377.1 900.0,1375.3 900.9,1372.1 901.8,1370.7 902.7,1372.4 903.5,1374.5 904.4,1377.9 905.3,1380.3 906.2,1380.7 907.1,1382.6 908.0,1381.0 908.9,1383.4 909.8,1381.8 910.6,1382.0 911.5,1380.7 912.4,1382.1 913.3,1380.8 914.2,1381.7 915.1,1381.2 916.0,1380.5 916.9,1382.3 917.7,1381.0 918.6,1380.4 919.5,1380.4 920.4,1380.8 921.3,1380.5 922.2,1381.0 923.1,1379.9 923.9,1380.3 924.8,1379.7 925.7,1379.5 926.6,1380.5 927.5,1379.2 928.4,1378.5 929.3,1380.1 930.2,1379.2 931.0,1379.9 931.9,1379.8 932.8,1379.7 933.7,1379.3 934.6,1380.3 935.5,1378.3 936.4,1379.9 937.2,1378.9 938.1,1379.2 939.0,1378.6 939.9,1379.5 940.8,1379.2 941.7,1378.4 942.6,1378.8 943.5,1379.1 944.3,1378.6 945.2,1380.5 946.1,1379.1 947.0,1378.4 947.9,1379.4 948.8,1378.9 949.7,1378.3 950.5,1378.4 951.4,1377.5 952.3,1379.2 953.2,1379.8 954.1,1378.6 955.0,1378.1 955.9,1377.4 956.8,1377.8 957.6,1378.7 958.5,1378.2 959.4,1378.6 960.3,1378.1 961.2,1378.6 962.1,1378.5 963.0,1378.8 963.8,1378.8 964.7,1378.8 965.6,1378.1 966.5,1378.5 967.4,1377.8 968.3,1378.3 969.2,1378.7 970.1,1379.0 970.9,1377.7 971.8,1378.0 972.7,1378.3 973.6,1377.8 974.5,1378.5 975.4,1378.6 976.3,1378.2 977.2,1380.0 978.0,1378.4 978.9,1378.9 979.8,1377.5 980.7,1379.4 981.6,1379.0 982.5,1378.9 983.4,1377.2 984.2,1378.7 985.1,1378.3 986.0,1379.1 986.9,1378.8 987.8,1378.4 988.7,1378.5 989.6,1379.7 990.5,1379.6 991.3,1377.5 992.2,1378.5 993.1,1379.3 994.0,1378.5 994.9,1379.0 995.8,1378.6 996.7,1380.0 997.5,1379.3 998.4,1378.7 999.3,1379.8 1000.2,1379.3 1001.1,1380.0 1002.0,1378.5 1002.9,1377.7 1003.8,1379.4 1004.6,1378.8 1005.5,1377.5 1006.4,1375.9 1007.3,1378.8 1008.2,1378.8 1009.1,1378.1 1010.0,1378.3 1010.8,1378.7 1011.7,1377.6 1012.6,1379.5 1013.5,1377.6 1014.4,1378.5 1015.3,1378.5 1016.2,1378.0 1017.1,1377.7 1017.9,1378.9 1018.8,1376.9 1019.7,1378.0 1020.6,1379.0 1021.5,1376.9 1022.4,1375.9 1023.3,1375.8 1024.1,1371.9 1025.0,1368.4 1025.9,1357.6 1026.8,1340.1 1027.7,1316.8 1028.6,1296.7 1029.5,1287.6 1030.4,1295.1 1031.2,1316.9 1032.1,1337.9 1033.0,1357.6 1033.9,1367.3 1034.8,1372.7 1035.7,1375.5 1036.6,1378.0 1037.4,1377.5 1038.3,1377.7 1039.2,1376.7 1040.1,1378.0 1041.0,1377.8 1041.9,1377.7 1042.8,1377.1 1043.7,1376.1 1044.5,1377.4 1045.4,1374.5 1046.3,1374.2 1047.2,1372.5 1048.1,1370.6 1049.0,1369.4 1049.9,1369.5 1050.8,1369.4 1051.6,1370.8 1052.5,1372.6 1053.4,1373.7 1054.3,1374.2 1055.2,1372.6 1056.1,1374.2 1057.0,1372.5 1057.8,1373.5 1058.7,1373.1 1059.6,1372.4 1060.5,1373.0 1061.4,1372.4 1062.3,1375.0 1063.2,1375.8 1064.1,1378.7 1064.9,1377.1 1065.8,1380.2 1066.7,1378.7 1067.6,1377.5 1068.5,1380.5 1069.4,1379.0 1070.3,1379.5 1071.1,1380.1 1072.0,1378.1 1072.9,1379.0 1073.8,1379.4 1074.7,1380.3 1075.6,1379.3 1076.5,1379.8 1077.4,1378.1 1078.2,1379.8 1079.1,1378.7 1080.0,1379.2 1080.9,1379.5 1081.8,1380.1 1082.7,1378.9 1083.6,1379.8 1084.4,1379.2 1085.3,1379.9 1086.2,1379.1 1087.1,1380.5 1088.0,1378.7 1088.9,1378.7 1089.8,1380.5 1090.7,1379.0 1091.5,1380.0 1092.4,1380.1 1093.3,1378.3 1094.2,1379.4 1095.1,1379.3 1096.0,1379.6 1096.9,1378.6 1097.7,1379.8 1098.6,1379.9 1099.5,1378.9 1100.4,1379.8 1101.3,1379.9 1102.2,1378.5 1103.1,1379.8 1104.0,1380.5 1104.8,1380.4 1105.7,1379.1 1106.6,1379.3 1107.5,1380.0 1108.4,1380.3 1109.3,1380.6 1110.2,1380.1 1111.1,1380.6 1111.9,1379.6 1112.8,1381.5 1113.7,1380.0 1114.6,1379.4 1115.5,1379.7 1116.4,1378.8 1117.3,1379.6 1118.1,1380.0 1119.0,1380.6 1119.9,1381.1 1120.8,1379.7 1121.7,1379.8 1122.6,1380.9 1123.5,1381.1 1124.4,1380.9 1125.2,1380.6 1126.1,1379.6 1127.0,1380.0 1127.9,1379.3 1128.8,1379.9 1129.7,1381.4 1130.6,1381.7 1131.4,1380.3 1132.3,1381.0 1133.2,1381.5 1134.1,1379.7 1135.0,1379.5 1135.9,1380.1 1136.8,1379.0 1137.7,1381.1 1138.5,1380.5 1139.4,1380.4 1140.3,1380.6 1141.2,1381.0 1142.1,1380.6 1143.0,1379.7 1143.9,1381.1 1144.7,1380.2 1145.6,1380.8 1146.5,1380.1 1147.4,1380.6 1148.3,1379.5 1149.2,1380.8 1150.1,1380.5 1151.0,1381.5 1151.8,1380.2 1152.7,1380.2 1153.6,1381.4 1154.5,1379.4 1155.4,1381.4 1156.3,1381.0 1157.2,1380.7 1158.0,1381.2 1158.9,1381.0 1159.8,1380.6 1160.7,1381.9 1161.6,1380.8 1162.5,1381.6 1163.4,1381.4 1164.3,1381.1 1165.1,1381.3 1166.0,1382.1 1166.9,1381.7 1167.8,1383.0 1168.7,1382.8 1169.6,1381.9 1170.5,1383.1 1171.4,1380.7 1172.2,1383.8 1173.1,1381.7 1174.0,1381.8 1174.9,1383.7 1175.8,1381.7 1176.7,1382.5 1177.6,1383.4 1178.4,1381.7 1179.3,1383.3 1180.2,1384.1 1181.1,1383.0 1182.0,1384.8 1182.9,1383.1 1183.8,1385.0 1184.7,1384.3 1185.5,1384.2 1186.4,1384.0 1187.3,1383.6 1188.2,1385.2 1189.1,1383.6 1190.0,1384.6 1190.9,1385.2 1191.7,1385.1 1192.6,1385.4 1193.5,1384.5 1194.4,1384.1 1195.3,1385.3 1196.2,1385.0 1197.1,1386.0 1198.0,1383.8 1198.8,1385.4 1199.7,1385.7 1200.6,1385.2 1201.5,1384.3 1202.4,1385.6 1203.3,1386.4 1204.2,1385.2 1205.0,1385.1 1205.9,1385.0 1206.8,1385.1 1207.7,1384.5 1208.6,1388.2 1209.5,1385.7 1210.4,1386.8 1211.3,1386.8 1212.1,1385.5 1213.0,1386.4 1213.9,1387.3 1214.8,1387.0 1215.7,1386.7 1216.6,1385.4 1217.5,1385.5 1218.3,1386.0 1219.2,1387.2 1220.1,1385.5 1221.0,1386.6 1221.9,1387.0 1222.8,1386.7 1223.7,1386.2 1224.6,1385.7 1225.4,1386.8 1226.3,1386.0 1227.2,1386.6 1228.1,1386.0 1229.0,1386.0 1229.9,1386.1 1230.8,1385.8 1231.7,1387.3 1232.5,1385.6 1233.4,1387.0 1234.3,1386.4 1235.2,1387.2 1236.1,1385.7 1237.0,1387.0 1237.9,1387.1 1238.7,1388.2 1239.6,1387.9 1240.5,1387.5 1241.4,1387.3 1242.3,1387.4 1243.2,1388.2 1244.1,1388.4 1245.0,1387.8 1245.8,1388.0 1246.7,1385.6 1247.6,1386.9 1248.5,1386.9 1249.4,1384.8 1250.3,1383.8 1251.2,1385.3 1252.0,1383.3 1252.9,1386.3 1253.8,1385.4 1254.7,1387.5 1255.6,1386.9 1256.5,1389.3 1257.4,1388.6 1258.3,1388.3 1259.1,1388.8 1260.0,1390.0 1260.9,1390.2 1261.8,1389.3 1262.7,1389.0 1263.6,1390.4 1264.5,1389.4 1265.3,1389.0 1266.2,1390.9 1267.1,1388.3 1268.0,1389.8 1268.9,1390.8 1269.8,1390.0 1270.7,1389.9 1271.6,1390.5 1272.4,1389.1 1273.3,1389.9 1274.2,1389.9 1275.1,1390.7 1276.0,1390.3 1276.9,1390.1 1277.8,1390.9 1278.6,1391.0 1279.5,1389.1 1280.4,1392.0 1281.3,1390.3 1282.2,1389.7 1283.1,1391.3 1284.0,1388.2 1284.9,1389.2 1285.7,1390.3 1286.6,1389.6 1287.5,1389.2 1288.4,1389.9 1289.3,1391.2 1290.2,1390.1 1291.1,1390.7 1291.9,1390.6 1292.8,1390.1 1293.7,1390.1 1294.6,1389.6 1295.5,1390.3 1296.4,1390.7 1297.3,1390.0 1298.2,1390.1 1299.0,1390.5 1299.9,1390.1 1300.8,1390.3 1301.7,1388.7 1302.6,1390.4 1303.5,1388.9 1304.4,1390.5 1305.3,1389.9 1306.1,1389.6 1307.0,1388.9 1307.9,1390.2 1308.8,1388.8 1309.7,1388.0 1310.6,1385.9 1311.5,1387.2 1312.3,1384.6 1313.2,1383.8 1314.1,1385.3 1315.0,1385.4 1315.9,1384.2 1316.8,1387.1 1317.7,1389.3 1318.6,1388.8 1319.4,1389.0 1320.3,1390.4 1321.2,1390.5 1322.1,1389.4 1323.0,1389.6 1323.9,1389.7 1324.8,1389.7 1325.6,1389.1 1326.5,1389.3 1327.4,1390.0 1328.3,1388.0 1329.2,1389.2 1330.1,1388.2 1331.0,1387.8 1331.9,1387.6 1332.7,1386.5 1333.6,1386.4 1334.5,1389.0 1335.4,1388.7 1336.3,1389.7 1337.2,1390.5 1338.1,1389.1 1338.9,1390.1 1339.8,1390.2 1340.7,1389.6 1341.6,1389.7 1342.5,1390.4 1343.4,1390.7 1344.3,1391.3 1345.2,1391.1 1346.0,1391.5 1346.9,1390.1 1347.8,1390.6 1348.7,1390.4 1349.6,1390.3 1350.5,1390.1 1351.4,1391.5 1352.2,1391.6 1353.1,1390.6 1354.0,1388.6 1354.9,1389.7 1355.8,1389.9 1356.7,1391.8 1357.6,1391.4 1358.5,1390.4 1359.3,1391.1 1360.2,1390.8 1361.1,1390.5 1362.0,1390.5 1362.9,1389.9 1363.8,1389.9 1364.7,1390.5 1365.6,1389.8 1366.4,1390.9 1367.3,1390.4 1368.2,1390.0 1369.1,1390.9 1370.0,1390.1 1370.9,1390.4 1371.8,1389.9 1372.6,1390.9 1373.5,1390.4 1374.4,1389.9 1375.3,1389.5 1376.2,1389.4 1377.1,1388.0 1378.0,1386.3 1378.9,1388.2 1379.7,1386.7 1380.6,1387.2 1381.5,1386.3 1382.4,1386.4 1383.3,1387.4 1384.2,1389.3 1385.1,1389.2 1385.9,1389.9 1386.8,1390.0 1387.7,1389.4 1388.6,1391.9 1389.5,1390.1 1390.4,1390.1 1391.3,1390.0 1392.2,1391.1 1393.0,1391.8 1393.9,1391.0 1394.8,1391.2 1395.7,1390.7 1396.6,1391.9 1397.5,1391.1 1398.4,1391.3 1399.2,1390.2 1400.1,1391.9 1401.0,1391.5 1401.9,1390.6 1402.8,1390.5 1403.7,1391.3 1404.6,1390.1 1405.5,1391.1 1406.3,1390.4 1407.2,1390.3 1408.1,1391.8 1409.0,1390.3 1409.9,1389.7 1410.8,1392.1 1411.7,1390.6 1412.5,1391.9 1413.4,1391.1 1414.3,1390.4 1415.2,1389.9 1416.1,1390.9 1417.0,1391.3 1417.9,1390.6 1418.8,1390.8 1419.6,1390.5 1420.5,1391.0 1421.4,1391.2 1422.3,1390.9 1423.2,1389.6 1424.1,1390.5 1425.0,1390.8 1425.9,1390.7 1426.7,1389.7 1427.6,1390.7 1428.5,1390.0 1429.4,1389.9 1430.3,1391.4 1431.2,1390.4 1432.1,1391.9 1432.9,1391.9 1433.8,1389.7 1434.7,1391.2 1435.6,1389.9 1436.5,1391.5 1437.4,1391.8 1438.3,1392.0 1439.2,1392.0 1440.0,1390.0 1440.9,1391.2 1441.8,1389.9 1442.7,1391.3 1443.6,1391.6 1444.5,1390.9 1445.4,1391.6 1446.2,1390.3 1447.1,1390.4 1448.0,1389.7 1448.9,1388.9 1449.8,1389.8 1450.7,1389.1 1451.6,1387.6 1452.5,1386.9 1453.3,1385.7 1454.2,1386.9 1455.1,1386.8 1456.0,1386.3 1456.9,1387.0 1457.8,1387.7 1458.7,1388.2 1459.5,1389.7 1460.4,1390.7 1461.3,1388.9 1462.2,1391.3 1463.1,1390.2 1464.0,1390.7 1464.9,1389.9 1465.8,1390.6 1466.6,1390.9 1467.5,1390.8 1468.4,1392.9 1469.3,1390.7 1470.2,1390.9 1471.1,1390.8 1472.0,1391.4 1472.8,1391.6 1473.7,1391.6 1474.6,1391.0 1475.5,1391.2 1476.4,1389.4 1477.3,1391.1 1478.2,1390.4 1479.1,1391.3 1479.9,1390.7 1480.8,1391.5 1481.7,1390.9 1482.6,1391.5 1483.5,1389.6 1484.4,1391.8 1485.3,1390.1 1486.2,1392.3 1487.0,1390.0 1487.9,1391.1 1488.8,1390.4 1489.7,1391.2 1490.6,1391.9 1491.5,1390.5 1492.4,1391.4 1493.2,1391.7 1494.1,1390.4 1495.0,1391.7 1495.9,1390.7 1496.8,1391.5 1497.7,1390.3 1498.6,1393.4 1499.5,1391.0 1500.3,1389.6 1501.2,1391.5 1502.1,1390.9 1503.0,1390.0 1503.9,1390.9 1504.8,1390.2 1505.7,1391.2 1506.5,1390.4 1507.4,1390.3 1508.3,1391.2 1509.2,1391.4 1510.1,1391.1 1511.0,1391.3 1511.9,1391.1 1512.8,1391.3 1513.6,1392.0 1514.5,1391.8 1515.4,1391.5 1516.3,1392.3 1517.2,1389.9 1518.1,1391.8 1519.0,1389.7 1519.8,1390.6 1520.7,1390.4 1521.6,1391.5 1522.5,1392.2 1523.4,1390.6 1524.3,1389.8 1525.2,1391.8 1526.1,1391.0 1526.9,1390.1 1527.8,1392.7 1528.7,1391.4 1529.6,1391.2 1530.5,1391.2 1531.4,1390.9 1532.3,1391.5 1533.1,1391.2 1534.0,1392.0 1534.9,1390.0 1535.8,1391.1 1536.7,1391.9 1537.6,1390.2 1538.5,1391.6 1539.4,1390.5 1540.2,1391.8 1541.1,1392.0 1542.0,1391.4 1542.9,1390.9 1543.8,1390.1 1544.7,1389.8 1545.6,1389.7 1546.5,1388.4 1547.3,1386.1 1548.2,1385.2 1549.1,1382.6 1550.0,1383.5 1550.9,1383.1 1551.8,1383.3 1552.7,1385.3 1553.5,1385.8 1554.4,1388.5 1555.3,1388.8 1556.2,1388.7 1557.1,1388.9 1558.0,1392.1 1558.9,1389.7 1559.8,1390.9 1560.6,1391.7 1561.5,1390.9 1562.4,1390.5 1563.3,1391.0 1564.2,1391.3 1565.1,1391.3 1566.0,1391.5 1566.8,1390.4 1567.7,1392.0 1568.6,1391.4 1569.5,1391.8 1570.4,1391.9 1571.3,1391.6 1572.2,1390.3 1573.1,1390.7 1573.9,1390.7 1574.8,1390.5 1575.7,1390.8 1576.6,1390.0 1577.5,1391.2 1578.4,1391.2 1579.3,1392.0 1580.1,1390.9 1581.0,1392.5 1581.9,1391.2 1582.8,1391.0 1583.7,1391.3 1584.6,1392.3 1585.5,1392.0 1586.4,1391.5 1587.2,1391.3 1588.1,1390.9 1589.0,1390.3 1589.9,1391.1 1590.8,1391.0 1591.7,1392.5 1592.6,1390.9 1593.4,1392.2 1594.3,1391.3 1595.2,1391.0 1596.1,1391.8 1597.0,1389.7 1597.9,1389.9 1598.8,1392.6 1599.7,1391.6 1600.5,1391.6 1601.4,1391.2 1602.3,1391.4 1603.2,1391.2 1604.1,1391.2 1605.0,1391.4 1605.9,1391.5 1606.7,1391.7 1607.6,1390.6 1608.5,1391.0 1609.4,1392.5 1610.3,1391.1 1611.2,1391.6 1612.1,1391.4 1613.0,1391.1 1613.8,1392.7 1614.7,1391.8 1615.6,1390.0 1616.5,1392.1 1617.4,1390.4 1618.3,1390.0 1619.2,1390.8 1620.1,1391.9 1620.9,1390.1 1621.8,1392.0 1622.7,1390.7 1623.6,1392.2 1624.5,1391.9 1625.4,1390.8 1626.3,1389.6 1627.1,1391.3 1628.0,1389.7 1628.9,1391.9 1629.8,1391.0 1630.7,1392.2 1631.6,1390.9 1632.5,1390.6 1633.4,1391.7 1634.2,1390.6 1635.1,1391.4 1636.0,1391.2 1636.9,1390.8 1637.8,1390.3 1638.7,1391.8 1639.6,1392.5 1640.4,1391.1 1641.3,1390.7 1642.2,1391.1 1643.1,1390.4 1644.0,1389.9 1644.9,1392.1 1645.8,1391.4 1646.7,1391.0 1647.5,1392.5 1648.4,1391.1 1649.3,1390.9 1650.2,1391.4 1651.1,1389.9 1652.0,1390.1 1652.9,1389.7 1653.7,1389.4 1654.6,1388.7 1655.5,1389.3 1656.4,1388.8 1657.3,1389.0 1658.2,1389.4 1659.1,1388.8 1660.0,1389.1 1660.8,1390.0 1661.7,1391.4 1662.6,1389.9 1663.5,1391.3 1664.4,1390.6 1665.3,1390.9 1666.2,1390.7 1667.0,1390.0 1667.9,1392.4 1668.8,1391.2 1669.7,1391.4 1670.6,1391.4 1671.5,1389.3 1672.4,1392.4 1673.3,1392.6 1674.1,1391.3 1675.0,1391.6 1675.9,1391.9 1676.8,1391.9 1677.7,1392.1 1678.6,1391.9 1679.5,1391.3 1680.4,1391.8 1681.2,1390.6 1682.1,1391.3 1683.0,1392.2 1683.9,1392.4 1684.8,1391.8 1685.7,1392.0 1686.6,1391.1 1687.4,1392.0 1688.3,1391.3 1689.2,1390.7 1690.1,1392.4 1691.0,1391.5 1691.9,1391.6 1692.8,1390.6 1693.7,1391.4 1694.5,1391.7 1695.4,1391.8 1696.3,1391.8 1697.2,1391.8 1698.1,1392.1 1699.0,1392.3 1699.9,1392.2 1700.7,1390.8 1701.6,1391.6 1702.5,1392.4 1703.4,1392.1 1704.3,1391.3 1705.2,1391.4 1706.1,1391.4 1707.0,1391.6 1707.8,1390.0 1708.7,1389.9 1709.6,1391.0 1710.5,1390.4 1711.4,1390.7 1712.3,1390.7 1713.2,1391.5 1714.0,1391.3 1714.9,1392.4 1715.8,1391.5 1716.7,1391.3 1717.6,1391.4 1718.5,1391.3 1719.4,1390.7 1720.3,1390.5 1721.1,1392.4 1722.0,1390.9 1722.9,1390.8 1723.8,1390.5 1724.7,1390.9 1725.6,1390.5 1726.5,1390.9 1727.3,1390.2 1728.2,1390.3 1729.1,1392.9 1730.0,1391.6 1730.9,1391.7 1731.8,1392.4 1732.7,1391.8 1733.6,1391.7 1734.4,1391.2 1735.3,1392.1 1736.2,1390.9 1737.1,1391.2 1738.0,1391.1 1738.9,1392.3 1739.8,1391.4 1740.7,1391.5 1741.5,1392.5 1742.4,1392.5 1743.3,1391.8 1744.2,1391.7 1745.1,1391.1 1746.0,1391.5 1746.9,1392.1 1747.7,1391.8 1748.6,1392.4 1749.5,1391.8 1750.4,1390.7 1751.3,1390.9 1752.2,1389.9 1753.1,1391.7 1754.0,1390.8 1754.8,1391.8 1755.7,1391.1 1756.6,1391.5 1757.5,1391.1 1758.4,1391.2 1759.3,1391.7 1760.2,1391.0 1761.0,1391.1 1761.9,1390.7 1762.8,1390.4 1763.7,1389.7 1764.6,1388.3 1765.5,1387.5 1766.4,1386.4 1767.3,1384.5 1768.1,1383.0 1769.0,1382.5 1769.9,1385.3 1770.8,1385.6 1771.7,1384.9 1772.6,1386.0 1773.5,1387.0 1774.3,1389.9 1775.2,1388.8 1776.1,1390.6 1777.0,1390.2 1777.9,1391.2 1778.8,1390.5 1779.7,1391.2 1780.6,1391.3 1781.4,1392.0 1782.3,1392.4 1783.2,1391.7 1784.1,1391.6 1785.0,1392.6 1785.9,1390.3 1786.8,1392.8 1787.6,1391.3 1788.5,1391.2 1789.4,1392.5 1790.3,1391.2 1791.2,1391.5 1792.1,1392.1 1793.0,1392.4 1793.9,1390.7 1794.7,1392.0 1795.6,1391.8 1796.5,1391.4 1797.4,1392.7 1798.3,1393.3 1799.2,1392.1 1800.1,1392.0 1801.0,1391.0 1801.8,1391.4 1802.7,1391.2 1803.6,1391.9 1804.5,1391.8 1805.4,1391.1 1806.3,1391.4 1807.2,1390.8 1808.0,1391.3 1808.9,1391.6 1809.8,1391.7 1810.7,1391.5 1811.6,1391.7 1812.5,1391.5 1813.4,1391.0 1814.3,1392.2 1815.1,1391.2 1816.0,1391.3 1816.9,1392.4 1817.8,1391.7 1818.7,1391.9 1819.6,1392.9 1820.5,1391.1 1821.3,1390.8 1822.2,1393.2 1823.1,1391.3 1824.0,1391.2 1824.9,1393.2 1825.8,1391.9 1826.7,1391.6 1827.6,1390.2 1828.4,1391.6 1829.3,1391.2 1830.2,1392.2 1831.1,1390.3 1832.0,1391.9 1832.9,1392.9 1833.8,1391.9 1834.6,1391.3 1835.5,1390.0 1836.4,1391.5 1837.3,1391.4 1838.2,1391.1 1839.1,1390.9 1840.0,1392.8 1840.9,1392.8 1841.7,1391.1 1842.6,1391.3 1843.5,1391.3 1844.4,1391.1 1845.3,1392.2 1846.2,1392.3 1847.1,1392.6 1847.9,1391.9 1848.8,1392.1 1849.7,1392.9 1850.6,1392.3 1851.5,1392.2 1852.4,1390.7 1853.3,1391.8 1854.2,1391.7 1855.0,1392.0 1855.9,1392.9 1856.8,1391.6 1857.7,1393.1 1858.6,1391.4 1859.5,1393.2 1860.4,1391.3 1861.2,1392.0 1862.1,1390.6 1863.0,1391.1 1863.9,1390.3 1864.8,1392.5 1865.7,1391.9 1866.6,1390.3 1867.5,1392.4 1868.3,1391.7 1869.2,1391.2 1870.1,1391.9 1871.0,1392.3 1871.9,1392.1 1872.8,1392.2 1873.7,1392.6 1874.6,1392.9 1875.4,1391.2 1876.3,1392.6 1877.2,1391.2 1878.1,1391.5 1879.0,1391.0 1879.9,1391.7 1880.8,1393.1 1881.6,1392.5 1882.5,1393.4 1883.4,1391.8 1884.3,1393.3 1885.2,1390.6 1886.1,1392.8 1887.0,1393.1 1887.9,1392.8 1888.7,1391.9 1889.6,1391.9 1890.5,1392.3 1891.4,1393.8 1892.3,1393.1 1893.2,1392.3 1894.1,1391.1 1894.9,1393.2 1895.8,1391.8 1896.7,1393.1 1897.6,1391.3 1898.5,1391.6 1899.4,1392.7 1900.3,1392.7 1901.2,1393.2 1902.0,1392.6 1902.9,1392.3 1903.8,1393.0 1904.7,1392.3 1905.6,1391.9 1906.5,1392.5 1907.4,1393.5 1908.2,1392.8 1909.1,1392.9 1910.0,1393.2 1910.9,1393.0 1911.8,1391.8 1912.7,1392.3 1913.6,1392.9 1914.5,1393.9 1915.3,1392.7 1916.2,1392.0 1917.1,1392.7 1918.0,1392.7 1918.9,1391.7 1919.8,1392.9 1920.7,1394.5 1921.5,1392.1 1922.4,1393.0 1923.3,1393.4 1924.2,1392.5 1925.1,1391.2 1926.0,1392.9 1926.9,1392.3 1927.8,1392.2 1928.6,1392.9 1929.5,1392.7 1930.4,1393.4 1931.3,1393.6 1932.2,1391.9 1933.1,1393.1 1934.0,1392.3 1934.9,1392.3 1935.7,1392.8 1936.6,1390.9 1937.5,1389.8 1938.4,1388.3 1939.3,1389.6 1940.2,1387.9 1941.1,1387.4 1941.9,1386.6 1942.8,1388.5 1943.7,1386.3 1944.6,1389.1 1945.5,1390.4 1946.4,1390.9 1947.3,1390.6 1948.2,1391.1 1949.0,1390.7 1949.9,1390.5 1950.8,1390.1 1951.7,1389.1 1952.6,1388.4 1953.5,1387.2 1954.4,1387.2 1955.2,1387.5 1956.1,1388.3 1957.0,1387.8 1957.9,1388.8 1958.8,1388.8 1959.7,1390.4 1960.6,1390.0 1961.5,1390.2 1962.3,1390.6 1963.2,1391.5 1964.1,1392.2 1965.0,1393.7 1965.9,1393.0 1966.8,1392.9 1967.7,1391.8 1968.5,1392.4 1969.4,1392.5 1970.3,1395.0 1971.2,1393.9 1972.1,1393.8 1973.0,1391.9 1973.9,1392.6 1974.8,1392.7 1975.6,1393.0 1976.5,1391.9 1977.4,1393.4 1978.3,1392.9 1979.2,1391.6 1980.1,1392.7 1981.0,1393.8 1981.8,1393.5 1982.7,1393.5 1983.6,1391.8 1984.5,1393.6 1985.4,1393.2 1986.3,1393.1 1987.2,1392.0 1988.1,1392.0 1988.9,1394.0 1989.8,1393.5 1990.7,1393.8 1991.6,1394.2 1992.5,1392.7 1993.4,1392.6 1994.3,1392.0 1995.2,1394.0 1996.0,1393.2 1996.9,1392.9 1997.8,1392.7 1998.7,1393.2 1999.6,1394.8 2000.5,1392.6 2001.4,1391.7 2002.2,1393.7 2003.1,1393.0 2004.0,1394.5 2004.9,1393.3 2005.8,1393.6 2006.7,1391.8 2007.6,1392.8 2008.5,1392.7 2009.3,1393.1 2010.2,1393.5 2011.1,1393.2 2012.0,1392.9 2012.9,1394.2 2013.8,1393.8 2014.7,1394.7 2015.5,1392.8 2016.4,1392.6 2017.3,1391.9 2018.2,1392.5 2019.1,1393.1 2020.0,1394.3 2020.9,1392.3 2021.8,1392.2 2022.6,1393.1 2023.5,1393.0 2024.4,1393.6 2025.3,1392.9 2026.2,1393.0 2027.1,1393.1 2028.0,1393.7 2028.8,1392.0 2029.7,1393.8 2030.6,1392.3 2031.5,1394.2 2032.4,1392.9 2033.3,1393.8 2034.2,1393.0 2035.1,1393.8 2035.9,1393.9 2036.8,1392.5 2037.7,1394.3 2038.6,1393.6 2039.5,1392.9 2040.4,1393.8 2041.3,1392.0 2042.1,1392.7 2043.0,1394.4 2043.9,1393.5 2044.8,1394.4 2045.7,1393.9 2046.6,1394.4 2047.5,1394.4 2048.4,1394.1 2049.2,1393.9 2050.1,1393.3 2051.0,1394.2 2051.9,1395.4 2052.8,1393.5 2053.7,1394.3 2054.6,1394.0 2055.5,1394.1 2056.3,1394.8 2057.2,1393.1 2058.1,1395.5 2059.0,1393.7 2059.9,1392.8 2060.8,1392.8 2061.7,1394.1 2062.5,1395.3 2063.4,1394.3 2064.3,1393.8 2065.2,1396.0 2066.1,1393.3 2067.0,1394.3 2067.9,1394.7 2068.8,1394.7 2069.6,1394.6 2070.5,1393.6 2071.4,1395.5 2072.3,1394.5 2073.2,1394.9 2074.1,1393.9 2075.0,1393.2 2075.8,1395.8 2076.7,1394.5 2077.6,1394.2 2078.5,1394.0 2079.4,1394.3 2080.3,1394.6 2081.2,1394.6 2082.1,1394.7 2082.9,1394.7 2083.8,1393.8 2084.7,1395.0 2085.6,1395.2 2086.5,1394.2 2087.4,1394.5 2088.3,1394.9 2089.1,1393.8 2090.0,1394.9 2090.9,1394.5 2091.8,1395.4 2092.7,1396.7 2093.6,1394.8 2094.5,1394.2 2095.4,1395.3 2096.2,1395.0 2097.1,1394.7 2098.0,1394.8 2098.9,1394.9 2099.8,1395.6 2100.7,1395.0 2101.6,1395.3 2102.4,1395.7 2103.3,1396.2 2104.2,1395.7 2105.1,1396.0 2106.0,1396.6 2106.9,1395.1 2107.8,1396.3 2108.7,1396.1 2109.5,1394.5 2110.4,1394.9 2111.3,1396.0 2112.2,1393.6 2113.1,1394.5 2114.0,1396.5 2114.9,1395.8 2115.7,1396.4 2116.6,1396.5 2117.5,1394.7 2118.4,1394.7 2119.3,1396.9 2120.2,1394.2 2121.1,1394.8 2122.0,1395.9 2122.8,1394.9 2123.7,1395.4 2124.6,1396.0 2125.5,1396.0 2126.4,1395.5 2127.3,1396.3 2128.2,1396.1 2129.1,1396.1 2129.9,1396.2 2130.8,1395.6 2131.7,1395.2 2132.6,1396.3 2133.5,1395.2 2134.4,1396.8 2135.3,1394.8 2136.1,1395.8 2137.0,1396.8 2137.9,1395.7 2138.8,1395.5 2139.7,1397.4 2140.6,1396.3 2141.5,1396.4 2142.4,1396.0 2143.2,1396.9 2144.1,1397.0 2145.0,1395.5 2145.9,1395.3 2146.8,1394.1 2147.7,1396.0 2148.6,1396.4 2149.4,1397.4 2150.3,1395.9 2151.2,1396.6 2152.1,1395.8 2153.0,1395.3 2153.9,1395.0 2154.8,1395.5 2155.7,1396.8 2156.5,1396.3 2157.4,1394.9 2158.3,1396.9 2159.2,1396.2 2160.1,1395.3 2161.0,1395.1 2161.9,1396.9 2162.7,1396.1 2163.6,1395.9 2164.5,1396.7 2165.4,1394.7 2166.3,1395.9 2167.2,1397.2 2168.1,1395.5 2169.0,1396.2 2169.8,1397.0 2170.7,1396.5 2171.6,1396.0 2172.5,1395.4 2173.4,1395.8 2174.3,1395.8 2175.2,1396.7 2176.0,1395.1 2176.9,1395.8 2177.8,1396.2 2178.7,1397.0 2179.6,1396.2 2180.5,1396.2 2181.4,1396.5 2182.3,1395.6 2183.1,1397.9 2184.0,1395.2 2184.9,1396.2 2185.8,1395.8 2186.7,1396.7 2187.6,1396.9 2188.5,1397.3 2189.4,1396.1 2190.2,1395.6 2191.1,1395.5 2192.0,1396.7 2192.9,1397.1 2193.8,1398.2 2194.7,1396.9 2195.6,1396.3 2196.4,1397.4 2197.3,1395.7 2198.2,1397.9 2199.1,1396.9 2200.0,1396.9 2200.9,1396.1 2201.8,1397.0 2202.7,1397.5 2203.5,1397.2 2204.4,1396.9 2205.3,1396.6 2206.2,1396.1 2207.1,1395.5 2208.0,1397.8 2208.9,1397.0 2209.7,1396.2 2210.6,1397.0 2211.5,1396.9"/>
<path stroke="#0000ff" stroke-width="11" d="M548.8,1233.6 549.7,1234.1 550.6,1234.9 551.5,1234.1 552.4,1233.7 553.3,1233.3 554.2,1235.1 555.1,1234.4 555.9,1234.1 556.8,1233.9 557.7,1232.8 558.6,1234.7 559.5,1234.0 560.4,1234.7 561.3,1235.9 562.1,1234.5 563.0,1234.7 563.9,1235.6 564.8,1234.8 565.7,1235.1 566.6,1234.2 567.5,1234.4 568.4,1233.9 569.2,1235.9 570.1,1236.2 571.0,1235.0 571.9,1235.3 572.8,1235.1 573.7,1237.5 574.6,1236.3 575.4,1235.5 576.3,1236.2 577.2,1236.7 578.1,1235.0 579.0,1236.3 579.9,1236.4 580.8,1236.0 581.7,1236.6 582.5,1237.0 583.4,1236.1 584.3,1235.9 585.2,1236.9 586.1,1236.4 587.0,1236.6 587.9,1237.8 588.7,1236.7 589.6,1236.4 590.5,1235.4 591.4,1236.7 592.3,1236.8 593.2,1237.0 594.1,1237.0 595.0,1237.1 595.8,1236.8 596.7,1236.7 597.6,1237.0 598.5,1236.1 599.4,1235.9 600.3,1235.9 601.2,1236.7 602.1,1235.3 602.9,1236.3 603.8,1236.5 604.7,1236.8 605.6,1235.8 606.5,1236.6 607.4,1236.6 608.3,1236.2 609.1,1236.6 610.0,1236.4 610.9,1235.6 611.8,1236.2 612.7,1235.7 613.6,1237.8 614.5,1236.2 615.4,1235.8 616.2,1235.2 617.1,1236.2 618.0,1236.5 618.9,1236.2 619.8,1235.1 620.7,1235.3 621.6,1235.2 622.4,1236.1 623.3,1235.3 624.2,1235.8 625.1,1237.2 626.0,1234.4 626.9,1235.5 627.8,1235.7 628.7,1234.5 629.5,1236.4 630.4,1235.3 631.3,1235.8 632.2,1235.9 633.1,1236.5 634.0,1234.9 634.9,1234.9 635.7,1234.4 636.6,1234.3 637.5,1236.6 638.4,1234.9 639.3,1233.9 640.2,1235.7 641.1,1236.4 642.0,1234.4 642.8,1235.1 643.7,1234.0 644.6,1233.6 645.5,1234.9 646.4,1234.2 647.3,1234.2 648.2,1235.0 649.0,1235.3 649.9,1234.9 650.8,1236.0 651.7,1234.5 652.6,1234.7 653.5,1235.6 654.4,1236.6 655.3,1236.5 656.1,1235.6 657.0,1235.0 657.9,1233.9 658.8,1235.9 659.7,1234.7 660.6,1236.5 661.5,1234.8 662.4,1233.2 663.2,1235.5 664.1,1234.7 665.0,1234.2 665.9,1234.6 666.8,1234.5 667.7,1234.6 668.6,1233.0 669.4,1234.3 670.3,1234.6 671.2,1233.3 672.1,1235.1 673.0,1233.9 673.9,1232.5 674.8,1235.1 675.7,1233.6 676.5,1233.8 677.4,1233.6 678.3,1235.1 679.2,1233.6 680.1,1233.0 681.0,1233.0 681.9,1233.9 682.7,1233.8 683.6,1232.8 684.5,1233.9 685.4,1232.6 686.3,1233.2 687.2,1233.4 688.1,1233.2 689.0,1233.1 689.8,1233.1 690.7,1232.4 691.6,1232.9 692.5,1232.9 693.4,1231.7 694.3,1231.5 695.2,1232.8 696.0,1232.5 696.9,1232.6 697.8,1233.0 698.7,1232.6 699.6,1231.9 700.5,1232.7 701.4,1231.7 702.3,1233.5 703.1,1233.0 704.0,1232.2 704.9,1231.6 705.8,1232.5 706.7,1232.0 707.6,1231.5 708.5,1232.4 709.3,1232.1 710.2,1232.7 711.1,1231.9 712.0,1233.5 712.9,1233.3 713.8,1230.9 714.7,1230.5 715.6,1231.4 716.4,1233.2 717.3,1232.6 718.2,1232.2 719.1,1232.4 720.0,1231.3 720.9,1232.4 721.8,1231.5 722.6,1232.5 723.5,1232.1 724.4,1232.0 725.3,1232.1 726.2,1233.0 727.1,1234.0 728.0,1231.4 728.9,1233.3 729.7,1232.5 730.6,1234.0 731.5,1233.8 732.4,1232.4 733.3,1233.2 734.2,1234.2 735.1,1234.5 736.0,1232.9 736.8,1232.7 737.7,1233.7 738.6,1234.6 739.5,1234.4 740.4,1234.0 741.3,1234.3 742.2,1234.4 743.0,1234.1 743.9,1233.5 744.8,1234.8 745.7,1234.7 746.6,1235.2 747.5,1234.6 748.4,1234.3 749.3,1235.4 750.1,1235.5 751.0,1236.3 751.9,1234.1 752.8,1234.8 753.7,1235.1 754.6,1237.0 755.5,1233.8 756.3,1236.3 757.2,1235.1 758.1,1235.0 759.0,1236.5 759.9,1236.5 760.8,1233.6 761.7,1235.2 762.6,1236.2 763.4,1235.9 764.3,1237.1 765.2,1235.8 766.1,1236.3 767.0,1234.9 767.9,1237.0 768.8,1236.7 769.6,1237.2 770.5,1236.2 771.4,1238.2 772.3,1236.4 773.2,1238.2 774.1,1238.3 775.0,1236.3 775.9,1237.1 776.7,1236.5 777.6,1235.7 778.5,1237.5 779.4,1237.1 780.3,1238.1 781.2,1238.3 782.1,1235.8 782.9,1236.9 783.8,1237.4 784.7,1237.7 785.6,1237.2 786.5,1236.5 787.4,1236.9 788.3,1237.5 789.2,1236.0 790.0,1235.9 790.9,1235.9 791.8,1236.4 792.7,1237.8 793.6,1236.4 794.5,1237.2 795.4,1237.6 796.3,1237.5 797.1,1236.7 798.0,1236.3 798.9,1236.3 799.8,1236.0 800.7,1235.7 801.6,1236.5 802.5,1236.7 803.3,1235.5 804.2,1235.2 805.1,1235.8 806.0,1235.7 806.9,1236.2 807.8,1235.6 808.7,1235.5 809.6,1234.2 810.4,1234.9 811.3,1234.9 812.2,1234.6 813.1,1235.3 814.0,1234.9 814.9,1234.2 815.8,1235.0 816.6,1235.4 817.5,1236.3 818.4,1234.4 819.3,1234.0 820.2,1234.9 821.1,1235.4 822.0,1233.7 822.9,1234.5 823.7,1233.8 824.6,1234.6 825.5,1233.3 826.4,1233.5 827.3,1233.6 828.2,1233.6 829.1,1232.7 829.9,1233.4 830.8,1233.0 831.7,1235.0 832.6,1234.5 833.5,1233.1 834.4,1233.1 835.3,1233.7 836.2,1233.1 837.0,1233.1 837.9,1234.0 838.8,1234.3 839.7,1233.8 840.6,1234.5 841.5,1233.4 842.4,1233.3 843.2,1233.0 844.1,1232.9 845.0,1232.6 845.9,1234.2 846.8,1233.7 847.7,1232.9 848.6,1232.9 849.5,1232.1 850.3,1233.2 851.2,1232.5 852.1,1232.4 853.0,1232.2 853.9,1231.2 854.8,1231.8 855.7,1233.2 856.6,1231.3 857.4,1231.2 858.3,1231.5 859.2,1230.9 860.1,1230.7 861.0,1230.5 861.9,1230.5 862.8,1231.1 863.6,1229.3 864.5,1229.8 865.4,1229.8 866.3,1230.7 867.2,1229.9 868.1,1230.7 869.0,1229.7 869.9,1231.0 870.7,1228.8 871.6,1231.4 872.5,1229.0 873.4,1229.6 874.3,1229.0 875.2,1229.5 876.1,1230.8 876.9,1230.2 877.8,1229.2 878.7,1229.9 879.6,1230.8 880.5,1229.9 881.4,1229.2 882.3,1229.7 883.2,1229.7 884.0,1228.1 884.9,1229.0 885.8,1229.4 886.7,1230.7 887.6,1229.9 888.5,1229.5 889.4,1228.1 890.2,1228.9 891.1,1228.1 892.0,1229.2 892.9,1228.6 893.8,1229.6 894.7,1228.8 895.6,1228.8 896.5,1228.8 897.3,1229.1 898.2,1227.9 899.1,1227.3 900.0,1226.4 900.9,1221.5 901.8,1196.5 902.7,1171.8 903.5,1178.1 904.4,1200.2 905.3,1219.8 906.2,1224.8 907.1,1226.7 908.0,1227.0 908.9,1226.6 909.8,1227.6 910.6,1227.2 911.5,1227.9 912.4,1227.5 913.3,1226.7 914.2,1227.5 915.1,1227.3 916.0,1226.8 916.9,1226.8 917.7,1227.3 918.6,1225.9 919.5,1227.1 920.4,1226.1 921.3,1226.1 922.2,1226.0 923.1,1226.6 923.9,1223.2 924.8,1222.0 925.7,1223.0 926.6,1221.2 927.5,1221.3 928.4,1220.3 929.3,1222.7 930.2,1222.7 931.0,1222.0 931.9,1224.5 932.8,1224.1 933.7,1224.0 934.6,1223.3 935.5,1226.0 936.4,1223.9 937.2,1225.1 938.1,1224.1 939.0,1223.8 939.9,1225.2 940.8,1225.0 941.7,1224.9 942.6,1224.1 943.5,1224.8 944.3,1224.8 945.2,1225.4 946.1,1224.3 947.0,1224.6 947.9,1224.9 948.8,1222.6 949.7,1224.6 950.5,1225.5 951.4,1224.8 952.3,1224.6 953.2,1224.9 954.1,1225.3 955.0,1223.1 955.9,1223.9 956.8,1223.7 957.6,1223.3 958.5,1225.1 959.4,1223.7 960.3,1224.5 961.2,1224.8 962.1,1225.2 963.0,1223.3 963.8,1223.2 964.7,1222.9 965.6,1224.6 966.5,1223.6 967.4,1224.7 968.3,1225.1 969.2,1225.7 970.1,1223.6 970.9,1224.4 971.8,1224.4 972.7,1222.8 973.6,1224.9 974.5,1225.4 975.4,1223.4 976.3,1224.8 977.2,1224.6 978.0,1224.5 978.9,1223.5 979.8,1223.5 980.7,1226.1 981.6,1225.2 982.5,1224.4 983.4,1225.2 984.2,1223.5 985.1,1224.8 986.0,1223.9 986.9,1222.4 987.8,1223.5 988.7,1224.8 989.6,1224.9 990.5,1224.7 991.3,1224.2 992.2,1224.4 993.1,1223.0 994.0,1224.1 994.9,1226.5 995.8,1224.3 996.7,1223.8 997.5,1225.7 998.4,1224.0 999.3,1223.8 1000.2,1223.8 1001.1,1223.6 1002.0,1222.0 1002.9,1222.5 1003.8,1221.6 1004.6,1220.1 1005.5,1221.3 1006.4,1221.0 1007.3,1220.9 1008.2,1221.4 1009.1,1223.1 1010.0,1220.6 1010.8,1223.8 1011.7,1223.5 1012.6,1223.6 1013.5,1223.4 1014.4,1223.4 1015.3,1224.3 1016.2,1223.0 1017.1,1224.9 1017.9,1222.5 1018.8,1223.8 1019.7,1223.0 1020.6,1224.2 1021.5,1223.2 1022.4,1221.1 1023.3,1222.1 1024.1,1220.4 1025.0,1220.4 1025.9,1218.4 1026.8,1213.9 1027.7,1198.1 1028.6,1136.0 1029.5,994.7 1030.4,864.9 1031.2,884.2 1032.1,996.5 1033.0,1117.1 1033.9,1186.6 1034.8,1210.7 1035.7,1219.4 1036.6,1219.8 1037.4,1220.4 1038.3,1221.2 1039.2,1222.1 1040.1,1222.7 1041.0,1222.9 1041.9,1223.8 1042.8,1223.0 1043.7,1223.8 1044.5,1223.6 1045.4,1223.1 1046.3,1222.6 1047.2,1217.4 1048.1,1209.0 1049.0,1209.9 1049.9,1213.4 1050.8,1218.1 1051.6,1224.2 1052.5,1224.9 1053.4,1222.6 1054.3,1224.2 1055.2,1224.1 1056.1,1223.2 1057.0,1219.6 1057.8,1210.6 1058.7,1200.6 1059.6,1202.7 1060.5,1210.7 1061.4,1217.1 1062.3,1220.9 1063.2,1224.8 1064.1,1225.6 1064.9,1223.3 1065.8,1223.8 1066.7,1226.3 1067.6,1224.6 1068.5,1225.6 1069.4,1225.7 1070.3,1224.9 1071.1,1224.1 1072.0,1226.1 1072.9,1225.1 1073.8,1224.0 1074.7,1224.0 1075.6,1224.9 1076.5,1223.7 1077.4,1226.6 1078.2,1225.4 1079.1,1225.6 1080.0,1224.7 1080.9,1225.3 1081.8,1223.2 1082.7,1224.3 1083.6,1225.2 1084.4,1223.9 1085.3,1224.2 1086.2,1224.0 1087.1,1225.6 1088.0,1225.7 1088.9,1224.8 1089.8,1225.4 1090.7,1224.9 1091.5,1224.0 1092.4,1224.4 1093.3,1224.7 1094.2,1225.6 1095.1,1225.2 1096.0,1226.0 1096.9,1224.8 1097.7,1225.9 1098.6,1225.5 1099.5,1226.5 1100.4,1225.7 1101.3,1226.2 1102.2,1224.0 1103.1,1226.0 1104.0,1225.6 1104.8,1226.2 1105.7,1225.9 1106.6,1224.7 1107.5,1227.1 1108.4,1226.9 1109.3,1225.5 1110.2,1225.7 1111.1,1224.2 1111.9,1224.8 1112.8,1221.9 1113.7,1222.9 1114.6,1222.3 1115.5,1221.0 1116.4,1222.4 1117.3,1224.0 1118.1,1223.4 1119.0,1224.4 1119.9,1225.4 1120.8,1225.6 1121.7,1226.1 1122.6,1226.3 1123.5,1226.5 1124.4,1225.9 1125.2,1226.4 1126.1,1225.6 1127.0,1227.5 1127.9,1226.2 1128.8,1226.7 1129.7,1226.2 1130.6,1227.1 1131.4,1226.1 1132.3,1228.0 1133.2,1226.9 1134.1,1226.7 1135.0,1227.7 1135.9,1227.4 1136.8,1226.7 1137.7,1225.9 1138.5,1226.9 1139.4,1227.0 1140.3,1226.2 1141.2,1227.2 1142.1,1226.6 1143.0,1227.5 1143.9,1226.8 1144.7,1226.2 1145.6,1225.4 1146.5,1226.4 1147.4,1225.7 1148.3,1228.8 1149.2,1228.2 1150.1,1228.3 1151.0,1227.5 1151.8,1227.9 1152.7,1226.2 1153.6,1227.2 1154.5,1226.4 1155.4,1228.0 1156.3,1227.5 1157.2,1228.7 1158.0,1226.9 1158.9,1228.0 1159.8,1228.5 1160.7,1227.4 1161.6,1228.0 1162.5,1228.8 1163.4,1226.8 1164.3,1228.0 1165.1,1227.9 1166.0,1227.9 1166.9,1226.5 1167.8,1227.9 1168.7,1226.6 1169.6,1229.5 1170.5,1228.1 1171.4,1228.4 1172.2,1227.9 1173.1,1228.6 1174.0,1227.9 1174.9,1228.6 1175.8,1229.4 1176.7,1228.7 1177.6,1229.0 1178.4,1229.2 1179.3,1229.4 1180.2,1228.9 1181.1,1229.1 1182.0,1228.9 1182.9,1227.6 1183.8,1228.5 1184.7,1230.1 1185.5,1229.3 1186.4,1229.0 1187.3,1228.3 1188.2,1228.8 1189.1,1230.0 1190.0,1230.7 1190.9,1229.6 1191.7,1228.5 1192.6,1228.0 1193.5,1229.1 1194.4,1230.8 1195.3,1230.0 1196.2,1228.8 1197.1,1229.4 1198.0,1229.4 1198.8,1230.4 1199.7,1230.6 1200.6,1230.3 1201.5,1228.2 1202.4,1230.4 1203.3,1230.8 1204.2,1229.1 1205.0,1229.9 1205.9,1229.9 1206.8,1228.3 1207.7,1228.2 1208.6,1229.1 1209.5,1229.1 1210.4,1229.9 1211.3,1228.8 1212.1,1229.0 1213.0,1229.2 1213.9,1230.7 1214.8,1229.4 1215.7,1230.6 1216.6,1230.5 1217.5,1229.5 1218.3,1230.2 1219.2,1229.4 1220.1,1230.0 1221.0,1230.6 1221.9,1230.0 1222.8,1230.1 1223.7,1230.2 1224.6,1229.9 1225.4,1231.4 1226.3,1229.3 1227.2,1230.5 1228.1,1229.6 1229.0,1230.2 1229.9,1230.6 1230.8,1232.5 1231.7,1230.7 1232.5,1230.8 1233.4,1231.2 1234.3,1230.7 1235.2,1230.2 1236.1,1231.8 1237.0,1231.6 1237.9,1231.1 1238.7,1231.2 1239.6,1232.4 1240.5,1231.2 1241.4,1230.9 1242.3,1231.1 1243.2,1229.5 1244.1,1232.4 1245.0,1232.1 1245.8,1232.1 1246.7,1230.2 1247.6,1231.2 1248.5,1224.8 1249.4,1211.7 1250.3,1205.9 1251.2,1212.5 1252.0,1214.9 1252.9,1222.4 1253.8,1229.4 1254.7,1231.8 1255.6,1231.9 1256.5,1232.8 1257.4,1232.9 1258.3,1232.6 1259.1,1233.7 1260.0,1232.4 1260.9,1233.0 1261.8,1232.2 1262.7,1233.3 1263.6,1234.0 1264.5,1234.7 1265.3,1232.9 1266.2,1232.4 1267.1,1232.8 1268.0,1233.3 1268.9,1234.3 1269.8,1232.8 1270.7,1233.6 1271.6,1235.3 1272.4,1234.1 1273.3,1234.4 1274.2,1234.3 1275.1,1233.2 1276.0,1234.9 1276.9,1235.3 1277.8,1233.8 1278.6,1233.9 1279.5,1233.6 1280.4,1234.5 1281.3,1233.8 1282.2,1235.2 1283.1,1234.0 1284.0,1234.3 1284.9,1234.6 1285.7,1233.2 1286.6,1232.4 1287.5,1234.2 1288.4,1233.4 1289.3,1232.6 1290.2,1233.7 1291.1,1234.5 1291.9,1233.6 1292.8,1234.7 1293.7,1233.5 1294.6,1233.7 1295.5,1232.4 1296.4,1233.3 1297.3,1234.0 1298.2,1233.9 1299.0,1232.9 1299.9,1234.1 1300.8,1236.2 1301.7,1234.7 1302.6,1234.2 1303.5,1233.0 1304.4,1232.9 1305.3,1233.8 1306.1,1233.1 1307.0,1234.5 1307.9,1233.2 1308.8,1233.8 1309.7,1233.5 1310.6,1233.7 1311.5,1233.0 1312.3,1232.4 1313.2,1228.6 1314.1,1216.8 1315.0,1205.7 1315.9,1211.1 1316.8,1216.3 1317.7,1220.0 1318.6,1227.5 1319.4,1232.0 1320.3,1233.4 1321.2,1235.0 1322.1,1233.7 1323.0,1233.4 1323.9,1234.3 1324.8,1234.5 1325.6,1234.1 1326.5,1233.3 1327.4,1234.0 1328.3,1234.6 1329.2,1232.7 1330.1,1233.2 1331.0,1230.7 1331.9,1226.3 1332.7,1222.6 1333.6,1223.3 1334.5,1226.0 1335.4,1228.5 1336.3,1232.1 1337.2,1234.8 1338.1,1233.7 1338.9,1235.7 1339.8,1234.1 1340.7,1234.6 1341.6,1233.7 1342.5,1234.7 1343.4,1233.7 1344.3,1234.8 1345.2,1233.9 1346.0,1234.4 1346.9,1233.4 1347.8,1233.4 1348.7,1234.3 1349.6,1234.6 1350.5,1234.7 1351.4,1234.3 1352.2,1233.2 1353.1,1234.1 1354.0,1235.5 1354.9,1233.7 1355.8,1234.6 1356.7,1234.8 1357.6,1234.4 1358.5,1234.5 1359.3,1235.2 1360.2,1234.5 1361.1,1236.3 1362.0,1233.7 1362.9,1234.9 1363.8,1234.4 1364.7,1233.4 1365.6,1235.5 1366.4,1235.0 1367.3,1234.8 1368.2,1235.2 1369.1,1233.4 1370.0,1234.7 1370.9,1235.1 1371.8,1234.1 1372.6,1234.0 1373.5,1235.0 1374.4,1233.4 1375.3,1233.8 1376.2,1234.7 1377.1,1235.5 1378.0,1234.8 1378.9,1233.6 1379.7,1230.3 1380.6,1219.9 1381.5,1215.0 1382.4,1222.2 1383.3,1223.5 1384.2,1225.4 1385.1,1230.2 1385.9,1233.1 1386.8,1232.9 1387.7,1233.0 1388.6,1234.6 1389.5,1234.3 1390.4,1234.3 1391.3,1234.5 1392.2,1234.9 1393.0,1233.9 1393.9,1233.1 1394.8,1234.7 1395.7,1236.2 1396.6,1234.7 1397.5,1235.2 1398.4,1234.8 1399.2,1234.0 1400.1,1234.6 1401.0,1234.3 1401.9,1234.1 1402.8,1235.9 1403.7,1234.3 1404.6,1234.2 1405.5,1233.6 1406.3,1234.6 1407.2,1236.3 1408.1,1234.9 1409.0,1236.2 1409.9,1234.8 1410.8,1234.2 1411.7,1233.5 1412.5,1234.2 1413.4,1235.0 1414.3,1232.7 1415.2,1234.6 1416.1,1235.3 1417.0,1235.1 1417.9,1233.0 1418.8,1233.3 1419.6,1234.1 1420.5,1232.8 1421.4,1234.3 1422.3,1233.8 1423.2,1234.8 1424.1,1234.5 1425.0,1234.6 1425.9,1234.5 1426.7,1234.8 1427.6,1234.7 1428.5,1233.3 1429.4,1235.0 1430.3,1234.9 1431.2,1233.6 1432.1,1234.2 1432.9,1235.0 1433.8,1233.9 1434.7,1234.8 1435.6,1233.5 1436.5,1234.5 1437.4,1236.0 1438.3,1235.5 1439.2,1235.6 1440.0,1235.7 1440.9,1234.6 1441.8,1234.6 1442.7,1235.2 1443.6,1234.4 1444.5,1233.6 1445.4,1235.4 1446.2,1235.4 1447.1,1235.0 1448.0,1235.1 1448.9,1233.8 1449.8,1234.9 1450.7,1234.5 1451.6,1234.6 1452.5,1233.4 1453.3,1231.1 1454.2,1224.9 1455.1,1222.0 1456.0,1223.5 1456.9,1226.0 1457.8,1227.3 1458.7,1229.9 1459.5,1232.3 1460.4,1235.0 1461.3,1234.8 1462.2,1233.4 1463.1,1234.0 1464.0,1233.9 1464.9,1236.6 1465.8,1233.9 1466.6,1234.1 1467.5,1234.8 1468.4,1235.0 1469.3,1234.4 1470.2,1235.7 1471.1,1233.4 1472.0,1235.3 1472.8,1234.0 1473.7,1235.9 1474.6,1235.7 1475.5,1234.4 1476.4,1234.8 1477.3,1234.0 1478.2,1233.9 1479.1,1234.8 1479.9,1233.0 1480.8,1235.8 1481.7,1233.6 1482.6,1236.3 1483.5,1234.5 1484.4,1234.0 1485.3,1233.9 1486.2,1234.9 1487.0,1232.8 1487.9,1235.0 1488.8,1234.0 1489.7,1233.9 1490.6,1234.0 1491.5,1234.2 1492.4,1235.1 1493.2,1235.1 1494.1,1235.1 1495.0,1233.3 1495.9,1235.6 1496.8,1234.8 1497.7,1234.7 1498.6,1233.5 1499.5,1235.2 1500.3,1234.4 1501.2,1235.0 1502.1,1235.2 1503.0,1236.0 1503.9,1234.8 1504.8,1233.5 1505.7,1235.0 1506.5,1233.7 1507.4,1234.6 1508.3,1233.6 1509.2,1235.5 1510.1,1236.2 1511.0,1232.9 1511.9,1233.8 1512.8,1234.2 1513.6,1232.8 1514.5,1233.8 1515.4,1234.5 1516.3,1234.7 1517.2,1233.1 1518.1,1234.5 1519.0,1235.0 1519.8,1235.1 1520.7,1233.8 1521.6,1233.8 1522.5,1233.9 1523.4,1235.7 1524.3,1235.1 1525.2,1233.5 1526.1,1234.8 1526.9,1234.3 1527.8,1233.9 1528.7,1234.9 1529.6,1234.4 1530.5,1235.3 1531.4,1235.7 1532.3,1234.0 1533.1,1235.0 1534.0,1235.6 1534.9,1234.2 1535.8,1234.0 1536.7,1234.3 1537.6,1234.8 1538.5,1233.3 1539.4,1234.8 1540.2,1234.1 1541.1,1234.9 1542.0,1234.5 1542.9,1236.4 1543.8,1234.3 1544.7,1235.1 1545.6,1234.2 1546.5,1234.9 1547.3,1234.0 1548.2,1231.4 1549.1,1226.9 1550.0,1210.9 1550.9,1190.1 1551.8,1199.2 1552.7,1214.2 1553.5,1213.0 1554.4,1212.5 1555.3,1225.0 1556.2,1231.5 1557.1,1233.3 1558.0,1233.7 1558.9,1232.9 1559.8,1234.9 1560.6,1234.4 1561.5,1233.7 1562.4,1233.5 1563.3,1234.3 1564.2,1234.3 1565.1,1234.4 1566.0,1234.0 1566.8,1235.6 1567.7,1234.5 1568.6,1233.8 1569.5,1234.3 1570.4,1234.4 1571.3,1234.1 1572.2,1232.9 1573.1,1232.2 1573.9,1230.9 1574.8,1230.9 1575.7,1231.0 1576.6,1229.7 1577.5,1230.9 1578.4,1231.6 1579.3,1231.6 1580.1,1232.1 1581.0,1233.4 1581.9,1232.6 1582.8,1233.3 1583.7,1234.4 1584.6,1234.7 1585.5,1234.9 1586.4,1232.8 1587.2,1235.3 1588.1,1233.7 1589.0,1234.6 1589.9,1233.8 1590.8,1234.5 1591.7,1233.7 1592.6,1234.5 1593.4,1234.7 1594.3,1235.2 1595.2,1234.6 1596.1,1234.2 1597.0,1233.2 1597.9,1233.5 1598.8,1233.8 1599.7,1234.1 1600.5,1235.3 1601.4,1233.6 1602.3,1234.5 1603.2,1234.6 1604.1,1235.2 1605.0,1234.1 1605.9,1234.5 1606.7,1234.6 1607.6,1234.8 1608.5,1235.7 1609.4,1234.2 1610.3,1234.3 1611.2,1234.6 1612.1,1233.2 1613.0,1235.4 1613.8,1235.1 1614.7,1234.2 1615.6,1235.2 1616.5,1234.3 1617.4,1235.4 1618.3,1236.1 1619.2,1235.5 1620.1,1235.9 1620.9,1236.3 1621.8,1235.3 1622.7,1234.7 1623.6,1234.2 1624.5,1236.8 1625.4,1232.8 1626.3,1237.1 1627.1,1234.3 1628.0,1234.8 1628.9,1234.3 1629.8,1234.7 1630.7,1234.1 1631.6,1234.6 1632.5,1234.6 1633.4,1234.9 1634.2,1233.5 1635.1,1236.6 1636.0,1233.5 1636.9,1234.3 1637.8,1234.9 1638.7,1233.8 1639.6,1234.4 1640.4,1234.4 1641.3,1233.1 1642.2,1234.3 1643.1,1234.3 1644.0,1234.8 1644.9,1235.6 1645.8,1233.8 1646.7,1234.3 1647.5,1234.8 1648.4,1233.8 1649.3,1235.0 1650.2,1234.2 1651.1,1235.8 1652.0,1232.9 1652.9,1233.4 1653.7,1230.9 1654.6,1226.5 1655.5,1215.7 1656.4,1215.5 1657.3,1223.9 1658.2,1227.4 1659.1,1223.3 1660.0,1226.0 1660.8,1232.5 1661.7,1235.1 1662.6,1233.2 1663.5,1232.4 1664.4,1233.9 1665.3,1234.7 1666.2,1235.1 1667.0,1234.7 1667.9,1233.9 1668.8,1234.5 1669.7,1234.4 1670.6,1234.0 1671.5,1234.9 1672.4,1234.3 1673.3,1234.6 1674.1,1234.8 1675.0,1234.9 1675.9,1233.0 1676.8,1234.3 1677.7,1234.0 1678.6,1235.1 1679.5,1233.5 1680.4,1234.5 1681.2,1236.1 1682.1,1234.5 1683.0,1233.9 1683.9,1234.4 1684.8,1234.5 1685.7,1234.7 1686.6,1234.7 1687.4,1234.8 1688.3,1233.8 1689.2,1233.2 1690.1,1233.5 1691.0,1234.4 1691.9,1234.9 1692.8,1234.4 1693.7,1236.3 1694.5,1234.4 1695.4,1234.7 1696.3,1235.2 1697.2,1234.8 1698.1,1234.9 1699.0,1234.2 1699.9,1234.6 1700.7,1233.8 1701.6,1235.5 1702.5,1234.4 1703.4,1234.6 1704.3,1235.2 1705.2,1233.8 1706.1,1234.4 1707.0,1232.7 1707.8,1235.1 1708.7,1235.2 1709.6,1234.7 1710.5,1234.5 1711.4,1232.9 1712.3,1235.0 1713.2,1234.0 1714.0,1233.5 1714.9,1235.7 1715.8,1232.8 1716.7,1233.6 1717.6,1235.4 1718.5,1235.4 1719.4,1234.2 1720.3,1232.1 1721.1,1234.5 1722.0,1235.5 1722.9,1235.0 1723.8,1233.8 1724.7,1235.3 1725.6,1235.3 1726.5,1234.7 1727.3,1234.9 1728.2,1235.3 1729.1,1234.5 1730.0,1236.2 1730.9,1234.1 1731.8,1234.8 1732.7,1234.9 1733.6,1234.5 1734.4,1234.0 1735.3,1234.8 1736.2,1234.7 1737.1,1235.6 1738.0,1233.3 1738.9,1235.0 1739.8,1234.0 1740.7,1234.6 1741.5,1235.4 1742.4,1235.0 1743.3,1234.6 1744.2,1236.4 1745.1,1233.3 1746.0,1234.1 1746.9,1234.9 1747.7,1233.2 1748.6,1233.4 1749.5,1233.6 1750.4,1234.1 1751.3,1233.9 1752.2,1233.4 1753.1,1234.3 1754.0,1235.1 1754.8,1233.6 1755.7,1234.6 1756.6,1234.9 1757.5,1234.4 1758.4,1235.4 1759.3,1234.5 1760.2,1236.2 1761.0,1234.1 1761.9,1235.9 1762.8,1236.4 1763.7,1234.7 1764.6,1233.7 1765.5,1233.8 1766.4,1233.1 1767.3,1225.5 1768.1,1212.1 1769.0,1206.3 1769.9,1220.1 1770.8,1226.8 1771.7,1223.1 1772.6,1219.4 1773.5,1225.8 1774.3,1231.6 1775.2,1233.9 1776.1,1234.7 1777.0,1235.0 1777.9,1234.6 1778.8,1233.5 1779.7,1234.7 1780.6,1234.8 1781.4,1235.1 1782.3,1233.7 1783.2,1234.3 1784.1,1235.2 1785.0,1235.1 1785.9,1235.3 1786.8,1235.8 1787.6,1234.6 1788.5,1234.7 1789.4,1235.2 1790.3,1234.8 1791.2,1234.5 1792.1,1233.9 1793.0,1235.4 1793.9,1233.6 1794.7,1233.5 1795.6,1234.9 1796.5,1233.8 1797.4,1234.6 1798.3,1234.0 1799.2,1234.9 1800.1,1233.2 1801.0,1235.8 1801.8,1234.7 1802.7,1234.3 1803.6,1234.9 1804.5,1234.9 1805.4,1235.1 1806.3,1235.2 1807.2,1233.2 1808.0,1234.1 1808.9,1234.1 1809.8,1234.5 1810.7,1235.1 1811.6,1235.4 1812.5,1235.0 1813.4,1233.8 1814.3,1233.5 1815.1,1234.7 1816.0,1233.1 1816.9,1233.5 1817.8,1234.1 1818.7,1233.9 1819.6,1233.9 1820.5,1234.7 1821.3,1234.4 1822.2,1235.2 1823.1,1234.8 1824.0,1234.0 1824.9,1235.2 1825.8,1235.7 1826.7,1235.2 1827.6,1234.3 1828.4,1234.2 1829.3,1235.2 1830.2,1234.4 1831.1,1233.7 1832.0,1236.6 1832.9,1234.8 1833.8,1235.3 1834.6,1235.5 1835.5,1235.0 1836.4,1234.2 1837.3,1234.4 1838.2,1233.8 1839.1,1234.4 1840.0,1232.5 1840.9,1234.0 1841.7,1234.8 1842.6,1234.5 1843.5,1235.8 1844.4,1234.2 1845.3,1235.0 1846.2,1233.4 1847.1,1235.2 1847.9,1234.4 1848.8,1233.9 1849.7,1235.5 1850.6,1233.5 1851.5,1234.6 1852.4,1233.6 1853.3,1234.9 1854.2,1233.6 1855.0,1233.8 1855.9,1231.7 1856.8,1230.2 1857.7,1228.9 1858.6,1228.9 1859.5,1227.3 1860.4,1228.5 1861.2,1228.0 1862.1,1230.2 1863.0,1230.8 1863.9,1231.9 1864.8,1231.9 1865.7,1232.6 1866.6,1234.1 1867.5,1233.8 1868.3,1233.9 1869.2,1235.1 1870.1,1234.5 1871.0,1235.8 1871.9,1236.5 1872.8,1234.1 1873.7,1236.1 1874.6,1236.0 1875.4,1234.5 1876.3,1234.5 1877.2,1235.3 1878.1,1235.8 1879.0,1234.8 1879.9,1235.4 1880.8,1236.3 1881.6,1234.1 1882.5,1235.5 1883.4,1235.2 1884.3,1236.3 1885.2,1236.9 1886.1,1234.8 1887.0,1235.0 1887.9,1235.2 1888.7,1234.3 1889.6,1235.1 1890.5,1233.8 1891.4,1235.4 1892.3,1236.0 1893.2,1234.4 1894.1,1233.7 1894.9,1234.4 1895.8,1235.2 1896.7,1235.3 1897.6,1235.4 1898.5,1236.2 1899.4,1234.9 1900.3,1235.5 1901.2,1235.8 1902.0,1234.2 1902.9,1236.0 1903.8,1236.2 1904.7,1234.3 1905.6,1236.6 1906.5,1235.2 1907.4,1235.4 1908.2,1236.0 1909.1,1234.8 1910.0,1235.2 1910.9,1235.9 1911.8,1237.4 1912.7,1236.0 1913.6,1235.8 1914.5,1235.9 1915.3,1236.4 1916.2,1235.5 1917.1,1235.1 1918.0,1235.9 1918.9,1236.8 1919.8,1236.3 1920.7,1235.1 1921.5,1236.5 1922.4,1235.1 1923.3,1235.0 1924.2,1235.7 1925.1,1235.7 1926.0,1236.3 1926.9,1236.6 1927.8,1235.1 1928.6,1235.6 1929.5,1234.1 1930.4,1236.0 1931.3,1235.0 1932.2,1235.6 1933.1,1235.7 1934.0,1235.3 1934.9,1235.1 1935.7,1235.6 1936.6,1233.7 1937.5,1235.2 1938.4,1233.3 1939.3,1226.5 1940.2,1221.2 1941.1,1218.5 1941.9,1222.7 1942.8,1227.7 1943.7,1228.9 1944.6,1227.4 1945.5,1225.2 1946.4,1228.6 1947.3,1229.7 1948.2,1225.4 1949.0,1216.2 1949.9,1210.4 1950.8,1215.1 1951.7,1223.4 1952.6,1223.5 1953.5,1218.4 1954.4,1212.6 1955.2,1212.9 1956.1,1220.4 1957.0,1227.1 1957.9,1228.4 1958.8,1229.7 1959.7,1228.8 1960.6,1229.9 1961.5,1232.0 1962.3,1234.1 1963.2,1235.0 1964.1,1235.7 1965.0,1236.7 1965.9,1236.3 1966.8,1235.9 1967.7,1236.2 1968.5,1235.0 1969.4,1235.5 1970.3,1235.6 1971.2,1237.1 1972.1,1236.5 1973.0,1236.5 1973.9,1236.5 1974.8,1235.3 1975.6,1235.5 1976.5,1235.4 1977.4,1236.8 1978.3,1235.6 1979.2,1235.8 1980.1,1235.3 1981.0,1236.9 1981.8,1235.5 1982.7,1235.6 1983.6,1235.2 1984.5,1235.8 1985.4,1236.3 1986.3,1236.2 1987.2,1236.2 1988.1,1234.9 1988.9,1235.8 1989.8,1236.7 1990.7,1236.0 1991.6,1236.2 1992.5,1235.9 1993.4,1236.7 1994.3,1235.7 1995.2,1236.2 1996.0,1236.2 1996.9,1235.2 1997.8,1237.1 1998.7,1236.1 1999.6,1236.9 2000.5,1236.7 2001.4,1235.2 2002.2,1236.3 2003.1,1235.1 2004.0,1237.2 2004.9,1235.9 2005.8,1236.4 2006.7,1235.0 2007.6,1235.7 2008.5,1236.2 2009.3,1237.0 2010.2,1236.0 2011.1,1235.7 2012.0,1236.5 2012.9,1235.6 2013.8,1235.5 2014.7,1236.1 2015.5,1236.4 2016.4,1235.2 2017.3,1235.6 2018.2,1236.6 2019.1,1236.3 2020.0,1235.6 2020.9,1236.2 2021.8,1236.4 2022.6,1237.3 2023.5,1235.2 2024.4,1237.0 2025.3,1234.2 2026.2,1234.9 2027.1,1237.0 2028.0,1235.9 2028.8,1235.9 2029.7,1236.0 2030.6,1236.9 2031.5,1236.1 2032.4,1237.0 2033.3,1235.5 2034.2,1237.9 2035.1,1237.3 2035.9,1236.8 2036.8,1236.6 2037.7,1235.2 2038.6,1237.9 2039.5,1236.9 2040.4,1236.2 2041.3,1237.6 2042.1,1235.4 2043.0,1235.9 2043.9,1237.7 2044.8,1236.1 2045.7,1237.1 2046.6,1237.2 2047.5,1236.7 2048.4,1237.1 2049.2,1236.8 2050.1,1237.3 2051.0,1237.8 2051.9,1236.7 2052.8,1238.2 2053.7,1235.5 2054.6,1237.7 2055.5,1236.0 2056.3,1236.5 2057.2,1237.5 2058.1,1235.7 2059.0,1237.7 2059.9,1236.7 2060.8,1237.8 2061.7,1237.0 2062.5,1236.6 2063.4,1236.6 2064.3,1236.3 2065.2,1236.0 2066.1,1236.6 2067.0,1233.9 2067.9,1232.3 2068.8,1232.6 2069.6,1231.8 2070.5,1233.2 2071.4,1232.8 2072.3,1233.8 2073.2,1234.0 2074.1,1234.4 2075.0,1234.2 2075.8,1235.5 2076.7,1236.6 2077.6,1236.3 2078.5,1235.2 2079.4,1235.6 2080.3,1237.6 2081.2,1236.7 2082.1,1238.8 2082.9,1238.7 2083.8,1237.2 2084.7,1237.3 2085.6,1238.2 2086.5,1238.7 2087.4,1238.8 2088.3,1238.1 2089.1,1237.4 2090.0,1238.9 2090.9,1239.2 2091.8,1238.3 2092.7,1237.2 2093.6,1239.3 2094.5,1238.2 2095.4,1238.0 2096.2,1238.9 2097.1,1238.6 2098.0,1239.4 2098.9,1238.0 2099.8,1238.0 2100.7,1237.9 2101.6,1237.7 2102.4,1238.3 2103.3,1237.6 2104.2,1237.2 2105.1,1238.0 2106.0,1238.0 2106.9,1238.6 2107.8,1238.1 2108.7,1238.5 2109.5,1238.5 2110.4,1237.7 2111.3,1239.0 2112.2,1238.0 2113.1,1236.4 2114.0,1236.8 2114.9,1234.2 2115.7,1232.1 2116.6,1231.9 2117.5,1229.3 2118.4,1229.7 2119.3,1231.7 2120.2,1233.4 2121.1,1234.6 2122.0,1233.9 2122.8,1233.2 2123.7,1235.5 2124.6,1237.2 2125.5,1238.0 2126.4,1237.6 2127.3,1238.4 2128.2,1238.5 2129.1,1237.4 2129.9,1237.9 2130.8,1239.7 2131.7,1237.7 2132.6,1238.3 2133.5,1239.3 2134.4,1238.1 2135.3,1238.9 2136.1,1238.4 2137.0,1238.4 2137.9,1240.7 2138.8,1238.0 2139.7,1237.9 2140.6,1239.4 2141.5,1240.5 2142.4,1237.8 2143.2,1238.4 2144.1,1239.2 2145.0,1239.2 2145.9,1239.0 2146.8,1238.6 2147.7,1239.0 2148.6,1237.6 2149.4,1239.4 2150.3,1238.7 2151.2,1239.8 2152.1,1239.8 2153.0,1238.6 2153.9,1239.4 2154.8,1236.8 2155.7,1238.0 2156.5,1238.2 2157.4,1237.1 2158.3,1235.5 2159.2,1235.7 2160.1,1235.8 2161.0,1234.6 2161.9,1234.5 2162.7,1235.1 2163.6,1235.1 2164.5,1236.0 2165.4,1237.1 2166.3,1237.0 2167.2,1236.8 2168.1,1237.9 2169.0,1238.4 2169.8,1237.8 2170.7,1237.4 2171.6,1238.7 2172.5,1241.2 2173.4,1238.7 2174.3,1238.4 2175.2,1237.8 2176.0,1239.6 2176.9,1238.2 2177.8,1238.6 2178.7,1239.7 2179.6,1240.2 2180.5,1239.5 2181.4,1238.7 2182.3,1239.2 2183.1,1240.0 2184.0,1239.7 2184.9,1240.0 2185.8,1239.5 2186.7,1239.6 2187.6,1238.8 2188.5,1239.9 2189.4,1239.1 2190.2,1239.2 2191.1,1240.0 2192.0,1239.5 2192.9,1239.3 2193.8,1239.7 2194.7,1239.0 2195.6,1239.9 2196.4,1239.3 2197.3,1239.9 2198.2,1239.0 2199.1,1240.6 2200.0,1239.6 2200.9,1240.4 2201.8,1240.4 2202.7,1240.3 2203.5,1240.0 2204.4,1240.9 2205.3,1239.1 2206.2,1239.3 2207.1,1237.3 2208.0,1235.7 2208.9,1235.0 2209.7,1234.4 2210.6,1233.3 2211.5,1234.2"/>
<path stroke="#ff00ff" stroke-width="11" d="M548.8,800.6 549.7,801.9 550.6,801.7 551.5,801.0 552.4,801.4 553.3,801.6 554.2,801.5 555.1,801.5 555.9,801.9 556.8,802.2 557.7,802.6 558.6,801.4 559.5,800.9 560.4,802.0 561.3,801.3 562.1,800.9 563.0,802.8 563.9,802.2 564.8,801.3 565.7,801.3 566.6,801.9 567.5,801.8 568.4,802.0 569.2,801.6 570.1,800.3 571.0,800.3 571.9,802.4 572.8,801.9 573.7,800.1 574.6,802.0 575.4,802.0 576.3,802.3 577.2,801.8 578.1,802.1 579.0,801.2 579.9,800.7 580.8,801.7 581.7,802.0 582.5,801.6 583.4,800.7 584.3,801.6 585.2,801.4 586.1,802.5 587.0,801.0 587.9,801.2 588.7,801.5 589.6,802.1 590.5,802.8 591.4,802.3 592.3,800.9 593.2,801.2 594.1,803.1 595.0,802.1 595.8,801.8 596.7,802.3 597.6,802.4 598.5,803.2 599.4,802.1 600.3,801.4 601.2,801.2 602.1,802.6 602.9,801.8 603.8,801.9 604.7,802.1 605.6,801.0 606.5,802.9 607.4,801.5 608.3,801.5 609.1,801.4 610.0,801.7 610.9,801.3 611.8,801.2 612.7,801.9 613.6,802.4 614.5,801.9 615.4,800.4 616.2,801.0 617.1,802.3 618.0,801.2 618.9,801.2 619.8,800.9 620.7,802.1 621.6,800.6 622.4,800.6 623.3,801.6 624.2,799.6 625.1,800.4 626.0,802.6 626.9,800.6 627.8,800.9 628.7,799.1 629.5,800.4 630.4,799.7 631.3,799.9 632.2,799.8 633.1,800.4 634.0,800.1 634.9,801.0 635.7,798.5 636.6,799.7 637.5,800.7 638.4,800.4 639.3,801.2 640.2,799.7 641.1,800.8 642.0,800.4 642.8,799.1 643.7,798.7 644.6,801.4 645.5,800.8 646.4,800.1 647.3,799.4 648.2,798.6 649.0,799.7 649.9,800.0 650.8,801.2 651.7,799.7 652.6,799.8 653.5,799.8 654.4,800.7 655.3,801.0 656.1,801.2 657.0,799.8 657.9,800.3 658.8,798.9 659.7,799.1 660.6,799.3 661.5,800.1 662.4,797.8 663.2,799.4 664.1,800.8 665.0,800.0 665.9,800.2 666.8,798.6 667.7,799.2 668.6,798.2 669.4,800.0 670.3,798.4 671.2,798.3 672.1,797.8 673.0,798.6 673.9,799.5 674.8,798.2 675.7,798.0 676.5,797.7 677.4,798.8 678.3,797.9 679.2,798.1 680.1,797.6 681.0,797.6 681.9,797.9 682.7,797.8 683.6,796.1 684.5,797.1 685.4,796.8 686.3,797.2 687.2,797.7 688.1,796.2 689.0,796.1 689.8,795.5 690.7,796.0 691.6,797.2 692.5,795.8 693.4,797.1 694.3,796.1 695.2,795.9 696.0,796.0 696.9,795.5 697.8,796.1 698.7,795.7 699.6,794.3 700.5,795.0 701.4,795.9 702.3,795.3 703.1,793.9 704.0,796.2 704.9,796.5 705.8,794.5 706.7,795.4 707.6,795.9 708.5,795.7 709.3,795.8 710.2,794.2 711.1,796.1 712.0,795.1 712.9,794.9 713.8,795.7 714.7,796.1 715.6,796.0 716.4,794.9 717.3,795.7 718.2,794.4 719.1,796.2 720.0,795.0 720.9,795.1 721.8,796.3 722.6,796.0 723.5,795.3 724.4,796.4 725.3,797.4 726.2,795.0 727.1,796.3 728.0,796.4 728.9,796.6 729.7,796.6 730.6,797.4 731.5,797.3 732.4,797.0 733.3,797.7 734.2,796.8 735.1,798.6 736.0,797.4 736.8,797.3 737.7,798.0 738.6,797.0 739.5,797.0 740.4,797.5 741.3,799.2 742.2,798.8 743.0,798.0 743.9,798.5 744.8,798.8 745.7,798.4 746.6,798.7 747.5,798.5 748.4,798.4 749.3,799.0 750.1,800.7 751.0,800.3 751.9,799.9 752.8,800.5 753.7,799.5 754.6,800.8 755.5,800.6 756.3,800.5 757.2,801.3 758.1,801.1 759.0,802.9 759.9,800.8 760.8,801.5 761.7,802.0 762.6,801.8 763.4,803.3 764.3,802.3 765.2,801.0 766.1,802.0 767.0,800.8 767.9,802.8 768.8,802.6 769.6,803.5 770.5,803.8 771.4,802.6 772.3,803.4 773.2,803.5 774.1,804.8 775.0,803.8 775.9,803.5 776.7,803.6 777.6,804.3 778.5,802.8 779.4,803.4 780.3,803.5 781.2,803.2 782.1,804.8 782.9,803.1 783.8,805.5 784.7,803.5 785.6,803.9 786.5,806.5 787.4,803.6 788.3,804.3 789.2,804.6 790.0,803.0 790.9,804.4 791.8,804.8 792.7,805.3 793.6,804.6 794.5,805.2 795.4,805.0 796.3,803.8 797.1,805.4 798.0,805.1 798.9,804.5 799.8,804.4 800.7,804.5 801.6,804.6 802.5,804.1 803.3,803.6 804.2,804.8 805.1,804.3 806.0,804.5 806.9,805.0 807.8,803.3 808.7,804.3 809.6,803.7 810.4,804.0 811.3,803.2 812.2,804.5 813.1,802.5 814.0,803.2 814.9,803.5 815.8,803.5 816.6,803.3 817.5,801.9 818.4,802.0 819.3,801.3 820.2,802.4 821.1,803.9 822.0,802.5 822.9,803.6 823.7,803.2 824.6,802.0 825.5,800.8 826.4,800.9 827.3,801.8 828.2,802.3 829.1,803.3 829.9,801.8 830.8,801.9 831.7,802.6 832.6,802.4 833.5,802.1 834.4,803.0 835.3,801.9 836.2,802.1 837.0,801.4 837.9,802.6 838.8,801.0 839.7,802.6 840.6,801.3 841.5,802.8 842.4,801.4 843.2,802.8 844.1,803.1 845.0,801.2 845.9,803.3 846.8,800.9 847.7,801.3 848.6,800.7 849.5,801.3 850.3,801.5 851.2,801.3 852.1,802.5 853.0,801.8 853.9,800.8 854.8,800.9 855.7,799.8 856.6,801.2 857.4,799.4 858.3,799.2 859.2,799.2 860.1,801.7 861.0,800.5 861.9,800.0 862.8,798.8 863.6,799.8 864.5,798.5 865.4,800.2 866.3,799.5 867.2,799.4 868.1,798.4 869.0,799.9 869.9,799.1 870.7,799.5 871.6,798.4 872.5,798.2 873.4,800.7 874.3,798.6 875.2,798.7 876.1,798.9 876.9,799.0 877.8,799.3 878.7,797.9 879.6,798.9 880.5,799.1 881.4,798.9 882.3,797.5 883.2,799.2 884.0,799.2 884.9,799.1 885.8,797.4 886.7,799.1 887.6,797.9 888.5,797.5 889.4,797.6 890.2,797.0 891.1,797.6 892.0,797.2 892.9,796.8 893.8,797.7 894.7,796.4 895.6,796.9 896.5,795.2 897.3,794.7 898.2,793.1 899.1,781.1 900.0,746.0 900.9,706.5 901.8,718.0 902.7,754.5 903.5,782.2 904.4,792.3 905.3,794.8 906.2,795.1 907.1,793.8 908.0,795.1 908.9,794.7 909.8,794.2 910.6,795.3 911.5,794.8 912.4,794.6 913.3,794.3 914.2,794.2 915.1,794.4 916.0,794.1 916.9,794.5 917.7,795.1 918.6,793.9 919.5,795.5 920.4,794.5 921.3,794.4 922.2,795.8 923.1,794.6 923.9,794.3 924.8,793.3 925.7,795.2 926.6,796.0 927.5,793.4 928.4,794.4 929.3,794.8 930.2,794.9 931.0,793.0 931.9,794.3 932.8,793.9 933.7,794.7 934.6,794.2 935.5,794.6 936.4,793.0 937.2,792.9 938.1,794.4 939.0,792.5 939.9,794.3 940.8,793.4 941.7,794.9 942.6,794.2 943.5,794.5 944.3,793.3 945.2,794.2 946.1,793.5 947.0,793.7 947.9,794.4 948.8,794.1 949.7,792.8 950.5,792.4 951.4,792.4 952.3,793.7 953.2,793.9 954.1,791.2 955.0,792.3 955.9,794.0 956.8,793.7 957.6,791.8 958.5,792.9 959.4,792.6 960.3,793.5 961.2,792.2 962.1,793.0 963.0,791.8 963.8,793.1 964.7,793.2 965.6,793.2 966.5,791.9 967.4,793.2 968.3,793.0 969.2,792.0 970.1,793.4 970.9,793.8 971.8,793.7 972.7,792.3 973.6,793.8 974.5,792.9 975.4,793.5 976.3,793.6 977.2,793.9 978.0,792.7 978.9,792.7 979.8,794.0 980.7,793.9 981.6,792.8 982.5,794.7 983.4,794.3 984.2,792.8 985.1,793.2 986.0,793.3 986.9,793.4 987.8,792.3 988.7,793.4 989.6,793.1 990.5,792.9 991.3,793.6 992.2,794.2 993.1,793.3 994.0,793.6 994.9,793.2 995.8,792.6 996.7,791.7 997.5,792.9 998.4,792.0 999.3,792.7 1000.2,792.6 1001.1,791.3 1002.0,788.7 1002.9,788.8 1003.8,787.2 1004.6,787.1 1005.5,785.8 1006.4,787.5 1007.3,788.4 1008.2,789.8 1009.1,790.5 1010.0,792.0 1010.8,791.9 1011.7,790.8 1012.6,793.8 1013.5,792.4 1014.4,791.6 1015.3,791.6 1016.2,791.8 1017.1,792.9 1017.9,791.2 1018.8,790.4 1019.7,792.5 1020.6,791.1 1021.5,789.4 1022.4,789.5 1023.3,788.0 1024.1,786.7 1025.0,782.2 1025.9,771.6 1026.8,727.4 1027.7,568.0 1028.6,310.7 1029.5,214.8 1030.4,344.8 1031.2,545.8 1032.1,700.4 1033.0,766.2 1033.9,782.8 1034.8,785.4 1035.7,788.0 1036.6,789.4 1037.4,790.6 1038.3,791.4 1039.2,792.1 1040.1,791.7 1041.0,790.8 1041.9,794.4 1042.8,791.9 1043.7,791.2 1044.5,790.4 1045.4,788.6 1046.3,782.2 1047.2,783.1 1048.1,784.9 1049.0,789.6 1049.9,790.8 1050.8,793.7 1051.6,792.6 1052.5,793.3 1053.4,793.0 1054.3,791.0 1055.2,784.0 1056.1,776.4 1057.0,775.5 1057.8,782.0 1058.7,785.4 1059.6,791.5 1060.5,793.3 1061.4,793.5 1062.3,793.4 1063.2,794.2 1064.1,792.6 1064.9,792.7 1065.8,795.1 1066.7,793.0 1067.6,795.0 1068.5,793.7 1069.4,795.2 1070.3,794.6 1071.1,794.6 1072.0,792.9 1072.9,795.1 1073.8,794.4 1074.7,793.9 1075.6,792.8 1076.5,794.6 1077.4,795.1 1078.2,794.2 1079.1,795.0 1080.0,795.4 1080.9,794.7 1081.8,795.3 1082.7,794.2 1083.6,794.6 1084.4,795.1 1085.3,794.5 1086.2,795.4 1087.1,794.7 1088.0,794.4 1088.9,793.2 1089.8,793.4 1090.7,794.4 1091.5,794.9 1092.4,793.9 1093.3,794.1 1094.2,794.1 1095.1,793.4 1096.0,792.1 1096.9,793.9 1097.7,795.5 1098.6,796.2 1099.5,797.0 1100.4,795.0 1101.3,794.8 1102.2,793.5 1103.1,795.2 1104.0,794.3 1104.8,794.5 1105.7,794.4 1106.6,794.3 1107.5,793.5 1108.4,796.0 1109.3,793.9 1110.2,793.5 1111.1,793.0 1111.9,792.8 1112.8,792.0 1113.7,792.1 1114.6,790.6 1115.5,792.1 1116.4,790.1 1117.3,791.9 1118.1,793.2 1119.0,794.0 1119.9,794.0 1120.8,794.3 1121.7,796.3 1122.6,795.8 1123.5,797.3 1124.4,798.0 1125.2,794.8 1126.1,795.6 1127.0,795.5 1127.9,795.6 1128.8,796.5 1129.7,796.4 1130.6,796.0 1131.4,797.6 1132.3,796.0 1133.2,798.3 1134.1,796.6 1135.0,798.2 1135.9,796.2 1136.8,797.0 1137.7,798.5 1138.5,795.9 1139.4,798.1 1140.3,797.4 1141.2,797.2 1142.1,797.6 1143.0,797.9 1143.9,796.8 1144.7,797.0 1145.6,798.0 1146.5,797.7 1147.4,798.5 1148.3,797.0 1149.2,798.5 1150.1,798.8 1151.0,798.6 1151.8,798.1 1152.7,799.7 1153.6,797.0 1154.5,798.6 1155.4,798.2 1156.3,798.9 1157.2,798.7 1158.0,798.9 1158.9,797.9 1159.8,798.8 1160.7,797.9 1161.6,799.5 1162.5,798.3 1163.4,798.5 1164.3,798.8 1165.1,798.5 1166.0,798.5 1166.9,798.3 1167.8,799.1 1168.7,797.5 1169.6,798.6 1170.5,799.0 1171.4,798.9 1172.2,798.9 1173.1,799.4 1174.0,799.1 1174.9,799.1 1175.8,798.2 1176.7,798.7 1177.6,798.0 1178.4,798.6 1179.3,798.5 1180.2,798.9 1181.1,797.4 1182.0,797.9 1182.9,796.8 1183.8,796.2 1184.7,794.5 1185.5,794.6 1186.4,794.7 1187.3,795.8 1188.2,796.8 1189.1,798.0 1190.0,797.9 1190.9,799.1 1191.7,798.7 1192.6,798.7 1193.5,798.7 1194.4,800.2 1195.3,799.3 1196.2,799.4 1197.1,798.2 1198.0,798.8 1198.8,799.2 1199.7,798.6 1200.6,798.8 1201.5,799.5 1202.4,799.7 1203.3,800.2 1204.2,799.4 1205.0,802.1 1205.9,798.5 1206.8,801.2 1207.7,800.0 1208.6,798.4 1209.5,800.1 1210.4,798.5 1211.3,797.4 1212.1,797.6 1213.0,797.0 1213.9,798.1 1214.8,797.0 1215.7,798.8 1216.6,798.4 1217.5,798.9 1218.3,798.9 1219.2,799.9 1220.1,800.4 1221.0,800.0 1221.9,798.6 1222.8,800.4 1223.7,800.8 1224.6,801.2 1225.4,801.0 1226.3,800.8 1227.2,800.3 1228.1,799.5 1229.0,801.3 1229.9,801.0 1230.8,800.9 1231.7,802.2 1232.5,800.7 1233.4,801.4 1234.3,801.5 1235.2,801.8 1236.1,801.0 1237.0,800.8 1237.9,801.4 1238.7,801.4 1239.6,800.7 1240.5,800.8 1241.4,800.1 1242.3,802.1 1243.2,802.0 1244.1,801.3 1245.0,800.0 1245.8,801.5 1246.7,798.5 1247.6,789.7 1248.5,773.1 1249.4,771.5 1250.3,779.2 1251.2,784.7 1252.0,793.2 1252.9,799.0 1253.8,802.6 1254.7,801.5 1255.6,801.7 1256.5,802.9 1257.4,802.5 1258.3,802.7 1259.1,802.4 1260.0,803.2 1260.9,802.2 1261.8,802.1 1262.7,802.2 1263.6,804.0 1264.5,802.3 1265.3,802.3 1266.2,802.0 1267.1,802.4 1268.0,802.6 1268.9,801.8 1269.8,801.8 1270.7,803.7 1271.6,803.4 1272.4,802.1 1273.3,803.1 1274.2,804.0 1275.1,803.0 1276.0,802.8 1276.9,803.2 1277.8,802.7 1278.6,804.6 1279.5,802.3 1280.4,802.3 1281.3,804.6 1282.2,802.5 1283.1,804.8 1284.0,801.9 1284.9,804.3 1285.7,802.7 1286.6,803.0 1287.5,803.2 1288.4,804.1 1289.3,802.9 1290.2,803.0 1291.1,803.9 1291.9,803.3 1292.8,802.0 1293.7,803.2 1294.6,803.7 1295.5,802.9 1296.4,803.5 1297.3,802.1 1298.2,802.3 1299.0,802.9 1299.9,803.5 1300.8,803.7 1301.7,803.1 1302.6,803.6 1303.5,804.1 1304.4,802.9 1305.3,802.5 1306.1,803.6 1307.0,803.5 1307.9,804.5 1308.8,801.5 1309.7,802.7 1310.6,802.8 1311.5,796.9 1312.3,783.0 1313.2,778.6 1314.1,785.5 1315.0,789.4 1315.9,793.4 1316.8,799.9 1317.7,803.9 1318.6,802.9 1319.4,803.8 1320.3,804.2 1321.2,804.4 1322.1,803.3 1323.0,803.8 1323.9,803.0 1324.8,803.7 1325.6,804.3 1326.5,803.8 1327.4,803.6 1328.3,803.2 1329.2,802.7 1330.1,797.2 1331.0,786.8 1331.9,787.5 1332.7,794.3 1333.6,794.1 1334.5,797.8 1335.4,801.9 1336.3,804.2 1337.2,802.4 1338.1,803.6 1338.9,803.1 1339.8,803.8 1340.7,803.9 1341.6,802.9 1342.5,804.3 1343.4,804.4 1344.3,803.7 1345.2,804.1 1346.0,803.5 1346.9,802.9 1347.8,803.3 1348.7,803.3 1349.6,802.3 1350.5,802.9 1351.4,803.0 1352.2,802.8 1353.1,804.0 1354.0,805.3 1354.9,800.6 1355.8,803.9 1356.7,805.0 1357.6,803.6 1358.5,802.6 1359.3,802.4 1360.2,804.0 1361.1,804.5 1362.0,803.5 1362.9,804.6 1363.8,803.8 1364.7,803.7 1365.6,804.0 1366.4,803.1 1367.3,803.3 1368.2,803.7 1369.1,802.9 1370.0,803.8 1370.9,803.4 1371.8,804.7 1372.6,803.3 1373.5,804.1 1374.4,803.6 1375.3,804.6 1376.2,802.6 1377.1,803.4 1378.0,797.4 1378.9,784.0 1379.7,779.5 1380.6,787.3 1381.5,789.4 1382.4,791.7 1383.3,798.3 1384.2,803.5 1385.1,802.0 1385.9,803.9 1386.8,803.4 1387.7,804.4 1388.6,804.0 1389.5,804.1 1390.4,804.1 1391.3,802.6 1392.2,803.4 1393.0,801.3 1393.9,802.6 1394.8,803.8 1395.7,801.9 1396.6,803.3 1397.5,803.4 1398.4,804.8 1399.2,803.6 1400.1,803.6 1401.0,803.6 1401.9,803.9 1402.8,803.9 1403.7,804.3 1404.6,804.3 1405.5,803.1 1406.3,804.8 1407.2,803.4 1408.1,804.4 1409.0,803.0 1409.9,804.3 1410.8,805.2 1411.7,802.2 1412.5,804.1 1413.4,804.7 1414.3,803.0 1415.2,804.5 1416.1,803.7 1417.0,804.4 1417.9,804.5 1418.8,803.6 1419.6,803.9 1420.5,802.9 1421.4,804.5 1422.3,804.1 1423.2,802.8 1424.1,803.7 1425.0,804.5 1425.9,803.9 1426.7,805.3 1427.6,804.5 1428.5,804.3 1429.4,803.8 1430.3,803.5 1431.2,804.3 1432.1,803.8 1432.9,804.7 1433.8,803.3 1434.7,804.3 1435.6,804.0 1436.5,804.6 1437.4,803.2 1438.3,803.6 1439.2,803.5 1440.0,804.0 1440.9,802.6 1441.8,804.2 1442.7,804.0 1443.6,804.4 1444.5,803.5 1445.4,804.1 1446.2,804.0 1447.1,804.5 1448.0,804.9 1448.9,803.5 1449.8,802.8 1450.7,804.0 1451.6,801.9 1452.5,799.7 1453.3,790.7 1454.2,787.0 1455.1,792.4 1456.0,797.6 1456.9,795.6 1457.8,798.7 1458.7,802.4 1459.5,803.0 1460.4,804.3 1461.3,805.1 1462.2,803.5 1463.1,804.7 1464.0,804.6 1464.9,803.1 1465.8,803.0 1466.6,803.9 1467.5,803.6 1468.4,805.2 1469.3,803.6 1470.2,805.1 1471.1,804.1 1472.0,802.9 1472.8,803.7 1473.7,803.7 1474.6,804.7 1475.5,803.7 1476.4,804.7 1477.3,803.7 1478.2,804.4 1479.1,803.4 1479.9,803.5 1480.8,804.3 1481.7,804.2 1482.6,803.0 1483.5,803.9 1484.4,804.0 1485.3,804.0 1486.2,803.9 1487.0,803.6 1487.9,804.4 1488.8,803.8 1489.7,803.5 1490.6,804.4 1491.5,802.6 1492.4,802.9 1493.2,803.9 1494.1,803.1 1495.0,803.7 1495.9,803.6 1496.8,804.1 1497.7,804.8 1498.6,804.4 1499.5,804.8 1500.3,804.6 1501.2,803.1 1502.1,802.8 1503.0,803.2 1503.9,804.3 1504.8,803.6 1505.7,804.7 1506.5,803.3 1507.4,802.6 1508.3,804.2 1509.2,805.3 1510.1,804.6 1511.0,803.4 1511.9,802.2 1512.8,803.6 1513.6,803.5 1514.5,803.7 1515.4,804.4 1516.3,803.3 1517.2,804.5 1518.1,805.0 1519.0,802.9 1519.8,805.3 1520.7,803.4 1521.6,804.3 1522.5,804.4 1523.4,805.1 1524.3,804.0 1525.2,804.3 1526.1,803.0 1526.9,804.7 1527.8,806.2 1528.7,803.8 1529.6,804.1 1530.5,802.4 1531.4,803.0 1532.3,803.6 1533.1,803.1 1534.0,805.5 1534.9,803.8 1535.8,803.7 1536.7,804.8 1537.6,805.1 1538.5,806.6 1539.4,801.6 1540.2,803.5 1541.1,804.5 1542.0,803.8 1542.9,803.0 1543.8,803.0 1544.7,803.1 1545.6,803.4 1546.5,803.0 1547.3,799.8 1548.2,786.7 1549.1,756.0 1550.0,743.5 1550.9,768.0 1551.8,779.3 1552.7,771.8 1553.5,782.2 1554.4,796.7 1555.3,802.4 1556.2,802.9 1557.1,803.8 1558.0,804.2 1558.9,804.0 1559.8,802.7 1560.6,804.2 1561.5,804.8 1562.4,802.0 1563.3,803.9 1564.2,803.5 1565.1,804.0 1566.0,803.5 1566.8,802.8 1567.7,803.0 1568.6,802.8 1569.5,804.7 1570.4,802.3 1571.3,802.8 1572.2,803.6 1573.1,804.7 1573.9,803.2 1574.8,803.8 1575.7,803.3 1576.6,802.0 1577.5,803.7 1578.4,803.0 1579.3,803.3 1580.1,804.2 1581.0,805.2 1581.9,803.6 1582.8,803.9 1583.7,803.9 1584.6,802.3 1585.5,804.5 1586.4,804.0 1587.2,805.0 1588.1,804.2 1589.0,803.3 1589.9,803.0 1590.8,803.0 1591.7,804.7 1592.6,804.4 1593.4,803.7 1594.3,803.9 1595.2,803.7 1596.1,805.6 1597.0,804.2 1597.9,804.0 1598.8,803.4 1599.7,803.4 1600.5,802.9 1601.4,802.8 1602.3,802.6 1603.2,803.7 1604.1,803.5 1605.0,802.6 1605.9,804.3 1606.7,803.7 1607.6,804.3 1608.5,803.9 1609.4,804.5 1610.3,803.6 1611.2,802.7 1612.1,803.7 1613.0,803.7 1613.8,803.7 1614.7,803.5 1615.6,803.7 1616.5,803.6 1617.4,803.7 1618.3,804.4 1619.2,804.4 1620.1,803.2 1620.9,803.8 1621.8,803.9 1622.7,803.2 1623.6,804.0 1624.5,804.1 1625.4,803.2 1626.3,804.4 1627.1,804.1 1628.0,803.2 1628.9,803.8 1629.8,802.5 1630.7,803.3 1631.6,803.4 1632.5,804.2 1633.4,805.2 1634.2,802.5 1635.1,804.3 1636.0,805.0 1636.9,804.8 1637.8,804.2 1638.7,803.9 1639.6,802.3 1640.4,803.1 1641.3,804.0 1642.2,803.5 1643.1,804.2 1644.0,803.8 1644.9,802.5 1645.8,803.4 1646.7,804.4 1647.5,802.3 1648.4,802.9 1649.3,801.7 1650.2,803.4 1651.1,802.9 1652.0,802.2 1652.9,798.6 1653.7,786.5 1654.6,777.5 1655.5,784.4 1656.4,794.6 1657.3,792.4 1658.2,789.6 1659.1,796.8 1660.0,801.8 1660.8,803.2 1661.7,805.0 1662.6,804.7 1663.5,803.0 1664.4,803.9 1665.3,802.3 1666.2,804.1 1667.0,804.2 1667.9,804.9 1668.8,803.6 1669.7,803.9 1670.6,802.2 1671.5,803.1 1672.4,803.1 1673.3,803.5 1674.1,803.6 1675.0,803.5 1675.9,804.7 1676.8,803.1 1677.7,803.7 1678.6,804.0 1679.5,802.9 1680.4,803.1 1681.2,803.7 1682.1,801.7 1683.0,804.6 1683.9,803.2 1684.8,803.8 1685.7,804.5 1686.6,802.8 1687.4,803.7 1688.3,803.6 1689.2,803.2 1690.1,804.2 1691.0,803.6 1691.9,803.3 1692.8,803.5 1693.7,802.7 1694.5,803.6 1695.4,803.9 1696.3,803.1 1697.2,803.7 1698.1,806.3 1699.0,804.4 1699.9,803.4 1700.7,802.4 1701.6,803.6 1702.5,803.2 1703.4,803.6 1704.3,803.0 1705.2,802.7 1706.1,803.2 1707.0,804.9 1707.8,804.5 1708.7,804.1 1709.6,802.6 1710.5,803.2 1711.4,803.6 1712.3,803.7 1713.2,803.7 1714.0,804.6 1714.9,802.1 1715.8,803.5 1716.7,803.0 1717.6,804.7 1718.5,801.5 1719.4,804.5 1720.3,803.8 1721.1,803.9 1722.0,804.3 1722.9,804.3 1723.8,804.2 1724.7,803.2 1725.6,802.4 1726.5,802.7 1727.3,804.0 1728.2,804.8 1729.1,804.8 1730.0,803.1 1730.9,802.7 1731.8,802.8 1732.7,801.9 1733.6,803.7 1734.4,804.2 1735.3,803.5 1736.2,804.1 1737.1,804.1 1738.0,802.8 1738.9,803.8 1739.8,804.3 1740.7,801.9 1741.5,804.1 1742.4,804.6 1743.3,803.0 1744.2,804.3 1745.1,804.8 1746.0,804.2 1746.9,803.0 1747.7,803.8 1748.6,804.2 1749.5,802.8 1750.4,802.3 1751.3,804.9 1752.2,804.1 1753.1,803.9 1754.0,804.1 1754.8,803.8 1755.7,805.6 1756.6,802.9 1757.5,803.5 1758.4,803.4 1759.3,803.4 1760.2,804.2 1761.0,804.2 1761.9,804.3 1762.8,804.0 1763.7,803.3 1764.6,801.9 1765.5,801.3 1766.4,796.0 1767.3,779.9 1768.1,765.0 1769.0,778.4 1769.9,793.3 1770.8,791.0 1771.7,784.8 1772.6,789.1 1773.5,800.6 1774.3,801.3 1775.2,802.5 1776.1,804.4 1777.0,804.2 1777.9,802.6 1778.8,803.0 1779.7,803.5 1780.6,803.5 1781.4,802.8 1782.3,803.7 1783.2,803.7 1784.1,801.8 1785.0,801.8 1785.9,802.8 1786.8,804.9 1787.6,804.1 1788.5,801.5 1789.4,803.3 1790.3,804.1 1791.2,802.9 1792.1,803.3 1793.0,803.0 1793.9,803.9 1794.7,804.9 1795.6,802.8 1796.5,803.3 1797.4,804.0 1798.3,803.5 1799.2,804.4 1800.1,803.7 1801.0,802.1 1801.8,804.0 1802.7,803.3 1803.6,803.3 1804.5,803.5 1805.4,802.7 1806.3,804.2 1807.2,803.5 1808.0,803.9 1808.9,804.0 1809.8,804.1 1810.7,804.5 1811.6,802.9 1812.5,804.1 1813.4,802.4 1814.3,803.9 1815.1,803.5 1816.0,803.7 1816.9,804.1 1817.8,803.9 1818.7,802.7 1819.6,805.0 1820.5,802.9 1821.3,803.8 1822.2,803.8 1823.1,803.9 1824.0,804.2 1824.9,803.9 1825.8,803.3 1826.7,804.8 1827.6,804.0 1828.4,803.1 1829.3,804.1 1830.2,803.2 1831.1,804.0 1832.0,803.0 1832.9,804.4 1833.8,805.3 1834.6,804.5 1835.5,803.7 1836.4,803.4 1837.3,802.9 1838.2,803.6 1839.1,804.4 1840.0,804.5 1840.9,804.2 1841.7,803.4 1842.6,803.6 1843.5,804.1 1844.4,803.6 1845.3,803.1 1846.2,803.4 1847.1,803.2 1847.9,803.3 1848.8,804.4 1849.7,803.8 1850.6,804.5 1851.5,802.0 1852.4,803.2 1853.3,805.1 1854.2,803.2 1855.0,803.5 1855.9,801.5 1856.8,800.5 1857.7,798.2 1858.6,796.9 1859.5,797.2 1860.4,797.1 1861.2,797.8 1862.1,800.3 1863.0,799.6 1863.9,800.6 1864.8,801.7 1865.7,803.6 1866.6,803.8 1867.5,804.9 1868.3,802.8 1869.2,804.9 1870.1,803.3 1871.0,803.9 1871.9,804.4 1872.8,806.2 1873.7,804.5 1874.6,805.1 1875.4,802.3 1876.3,803.4 1877.2,803.7 1878.1,804.4 1879.0,803.4 1879.9,804.4 1880.8,804.1 1881.6,805.2 1882.5,804.3 1883.4,804.3 1884.3,802.8 1885.2,804.4 1886.1,805.0 1887.0,803.9 1887.9,804.0 1888.7,803.7 1889.6,805.2 1890.5,805.3 1891.4,802.6 1892.3,804.9 1893.2,803.5 1894.1,804.6 1894.9,804.1 1895.8,803.8 1896.7,802.7 1897.6,803.8 1898.5,804.1 1899.4,804.6 1900.3,803.5 1901.2,804.1 1902.0,802.9 1902.9,803.0 1903.8,803.8 1904.7,803.5 1905.6,805.0 1906.5,804.7 1907.4,804.6 1908.2,804.0 1909.1,805.1 1910.0,805.6 1910.9,804.4 1911.8,804.8 1912.7,804.4 1913.6,803.9 1914.5,804.1 1915.3,802.4 1916.2,804.7 1917.1,804.6 1918.0,803.2 1918.9,803.9 1919.8,803.8 1920.7,804.1 1921.5,805.1 1922.4,804.9 1923.3,803.7 1924.2,803.9 1925.1,803.9 1926.0,804.1 1926.9,804.2 1927.8,805.8 1928.6,804.1 1929.5,804.4 1930.4,804.5 1931.3,804.7 1932.2,805.1 1933.1,804.1 1934.0,804.3 1934.9,805.2 1935.7,805.3 1936.6,803.4 1937.5,800.0 1938.4,791.9 1939.3,781.5 1940.2,781.0 1941.1,785.0 1941.9,791.5 1942.8,791.5 1943.7,783.6 1944.6,781.9 1945.5,784.3 1946.4,791.5 1947.3,797.5 1948.2,798.3 1949.0,795.7 1949.9,797.4 1950.8,798.6 1951.7,797.2 1952.6,792.3 1953.5,781.1 1954.4,776.8 1955.2,782.4 1956.1,790.2 1957.0,792.9 1957.9,791.0 1958.8,790.3 1959.7,794.8 1960.6,798.1 1961.5,802.9 1962.3,804.1 1963.2,804.4 1964.1,804.4 1965.0,804.9 1965.9,805.7 1966.8,804.6 1967.7,806.2 1968.5,805.4 1969.4,805.1 1970.3,804.5 1971.2,804.8 1972.1,804.7 1973.0,805.5 1973.9,806.5 1974.8,805.7 1975.6,804.8 1976.5,805.6 1977.4,804.5 1978.3,804.1 1979.2,805.5 1980.1,805.5 1981.0,805.0 1981.8,805.0 1982.7,805.0 1983.6,805.2 1984.5,804.6 1985.4,803.7 1986.3,804.7 1987.2,805.2 1988.1,803.8 1988.9,805.7 1989.8,804.5 1990.7,804.1 1991.6,806.4 1992.5,805.6 1993.4,805.2 1994.3,803.4 1995.2,805.0 1996.0,804.6 1996.9,806.1 1997.8,805.4 1998.7,806.5 1999.6,804.9 2000.5,805.7 2001.4,805.7 2002.2,803.8 2003.1,804.6 2004.0,805.1 2004.9,805.7 2005.8,805.6 2006.7,805.5 2007.6,804.6 2008.5,805.3 2009.3,805.3 2010.2,805.0 2011.1,804.7 2012.0,805.0 2012.9,805.5 2013.8,805.8 2014.7,806.1 2015.5,806.0 2016.4,803.5 2017.3,805.7 2018.2,804.1 2019.1,805.0 2020.0,805.1 2020.9,805.2 2021.8,806.0 2022.6,804.7 2023.5,805.6 2024.4,804.6 2025.3,805.7 2026.2,804.7 2027.1,805.8 2028.0,804.5 2028.8,804.5 2029.7,804.2 2030.6,806.1 2031.5,806.7 2032.4,805.2 2033.3,805.3 2034.2,805.3 2035.1,804.6 2035.9,805.4 2036.8,805.3 2037.7,804.8 2038.6,805.4 2039.5,806.8 2040.4,805.1 2041.3,806.4 2042.1,806.0 2043.0,804.7 2043.9,806.1 2044.8,807.1 2045.7,804.8 2046.6,804.8 2047.5,805.0 2048.4,807.0 2049.2,804.6 2050.1,807.5 2051.0,806.5 2051.9,806.3 2052.8,805.3 2053.7,806.2 2054.6,807.1 2055.5,805.4 2056.3,806.5 2057.2,805.5 2058.1,806.7 2059.0,805.9 2059.9,806.8 2060.8,807.3 2061.7,808.3 2062.5,804.6 2063.4,804.3 2064.3,805.3 2065.2,803.5 2066.1,802.2 2067.0,802.8 2067.9,801.9 2068.8,800.9 2069.6,802.5 2070.5,801.9 2071.4,803.3 2072.3,802.5 2073.2,803.8 2074.1,804.5 2075.0,804.5 2075.8,804.9 2076.7,806.3 2077.6,807.1 2078.5,806.0 2079.4,806.8 2080.3,806.1 2081.2,807.1 2082.1,808.5 2082.9,808.5 2083.8,807.5 2084.7,808.5 2085.6,806.0 2086.5,806.0 2087.4,806.6 2088.3,806.8 2089.1,807.8 2090.0,807.1 2090.9,807.4 2091.8,806.9 2092.7,807.5 2093.6,807.1 2094.5,807.2 2095.4,806.8 2096.2,807.1 2097.1,805.9 2098.0,807.3 2098.9,807.7 2099.8,807.9 2100.7,807.1 2101.6,805.6 2102.4,806.6 2103.3,806.6 2104.2,806.6 2105.1,808.3 2106.0,808.9 2106.9,808.4 2107.8,806.5 2108.7,807.2 2109.5,807.7 2110.4,806.6 2111.3,807.6 2112.2,806.8 2113.1,807.1 2114.0,803.8 2114.9,798.2 2115.7,792.4 2116.6,798.2 2117.5,803.4 2118.4,805.5 2119.3,803.8 2120.2,800.2 2121.1,801.0 2122.0,804.7 2122.8,807.0 2123.7,807.7 2124.6,808.1 2125.5,808.8 2126.4,807.6 2127.3,808.7 2128.2,807.1 2129.1,808.3 2129.9,807.2 2130.8,809.0 2131.7,807.5 2132.6,807.8 2133.5,807.7 2134.4,807.7 2135.3,808.6 2136.1,808.4 2137.0,809.3 2137.9,807.6 2138.8,806.2 2139.7,808.5 2140.6,808.7 2141.5,807.3 2142.4,808.8 2143.2,808.4 2144.1,807.4 2145.0,807.9 2145.9,808.1 2146.8,808.6 2147.7,809.2 2148.6,808.7 2149.4,809.2 2150.3,807.9 2151.2,807.6 2152.1,809.0 2153.0,807.3 2153.9,809.6 2154.8,807.8 2155.7,809.2 2156.5,807.3 2157.4,806.7 2158.3,804.8 2159.2,804.1 2160.1,804.2 2161.0,804.9 2161.9,804.0 2162.7,804.9 2163.6,803.7 2164.5,805.0 2165.4,805.7 2166.3,805.8 2167.2,807.8 2168.1,805.6 2169.0,806.8 2169.8,807.1 2170.7,808.0 2171.6,808.7 2172.5,808.8 2173.4,810.0 2174.3,809.2 2175.2,808.2 2176.0,808.2 2176.9,807.5 2177.8,808.0 2178.7,808.3 2179.6,809.9 2180.5,808.5 2181.4,808.6 2182.3,808.0 2183.1,809.2 2184.0,810.0 2184.9,809.1 2185.8,809.5 2186.7,809.2 2187.6,808.4 2188.5,808.8 2189.4,809.0 2190.2,809.3 2191.1,808.9 2192.0,809.1 2192.9,809.6 2193.8,808.8 2194.7,810.3 2195.6,809.0 2196.4,809.3 2197.3,809.8 2198.2,807.8 2199.1,808.5 2200.0,809.4 2200.9,810.2 2201.8,808.4 2202.7,808.6 2203.5,809.0 2204.4,808.9 2205.3,808.5 2206.2,809.5 2207.1,806.6 2208.0,804.4 2208.9,801.2 2209.7,800.0 2210.6,798.3 2211.5,801.1"/>
</g>
<text class="b" font-size="69.5" transform="translate(354.41,1549.50) scale(1,1.037)">0</text>
<text class="b" font-size="69.5" transform="translate(0,1289.28) scale(1,1.037)"><tspan x="180.49">20</tspan><tspan class="cm" x="248.29">,</tspan><tspan x="277.10">000</tspan></text>
<text class="b" font-size="69.5" transform="translate(0,1028.06) scale(1,1.037)"><tspan x="180.49">40</tspan><tspan class="cm" x="248.29">,</tspan><tspan x="277.10">000</tspan></text>
<text class="b" font-size="69.5" transform="translate(0,766.84) scale(1,1.037)"><tspan x="180.49">60</tspan><tspan class="cm" x="248.29">,</tspan><tspan x="277.10">000</tspan></text>
<text class="b" font-size="69.5" transform="translate(0,505.62) scale(1,1.037)"><tspan x="180.49">80</tspan><tspan class="cm" x="248.29">,</tspan><tspan x="277.10">000</tspan></text>
<text class="b" font-size="69.5" transform="translate(0,244.40) scale(1,1.037)"><tspan x="141.83"><tspan class="one" font-size="63.11" textLength="51.99" lengthAdjust="spacingAndGlyphs" dx="-4.59" dy="-0.90">1</tspan><tspan dx="-8.81" dy="0.90">0</tspan>0</tspan><tspan class="cm" x="252.29">,</tspan><tspan x="277.10">000</tspan></text>
<text class="b" font-size="69.5" transform="translate(418.17,1629.60) scale(1,1.037)">0</text>
<text class="b" font-size="69.5" transform="translate(620.54,1629.60) scale(1,1.037)"><tspan class="one" font-size="63.11" textLength="51.99" lengthAdjust="spacingAndGlyphs" dx="-4.59" dy="-0.90">1</tspan><tspan dx="-8.81" dy="0.90">0</tspan></text>
<text class="b" font-size="69.5" transform="translate(842.23,1629.60) scale(1,1.037)">20</text>
<text class="b" font-size="69.5" transform="translate(1063.92,1629.60) scale(1,1.037)">30</text>
<text class="b" font-size="69.5" transform="translate(1285.61,1629.60) scale(1,1.037)">40</text>
<text class="b" font-size="69.5" transform="translate(1507.30,1629.60) scale(1,1.037)">50</text>
<text class="b" font-size="69.5" transform="translate(1728.99,1629.60) scale(1,1.037)">60</text>
<text class="b" font-size="69.5" transform="translate(1950.68,1629.60) scale(1,1.037)">70</text>
<text class="b" font-size="69.5" transform="translate(2172.37,1629.60) scale(1,1.037)">80</text>
<text font-size="72.5" transform="translate(118.50,1014.50) rotate(-90) scale(1.004,1.02)">Intensity (a.u)</text>
<text font-size="72.5" transform="translate(1190.00,1732.80)">2<tspan class="sym" font-size="65.6" dx="0" textLength="36" lengthAdjust="spacingAndGlyphs">θ</tspan><tspan dx="0"> (deg)</tspan></text>
<text font-size="67" transform="translate(868.20,642.10) scale(1,1.04)"><tspan class="q" font-size="62.88" textLength="53.00" lengthAdjust="spacingAndGlyphs">Q</tspan></text>
<text font-size="67" transform="translate(1200.70,743.60) scale(1,1.04)"><tspan class="q" font-size="62.88" textLength="53.00" lengthAdjust="spacingAndGlyphs">Q</tspan></text>
<text font-size="67" transform="translate(1264.60,762.00) scale(1,1.04)"><tspan class="q" font-size="62.88" textLength="53.00" lengthAdjust="spacingAndGlyphs">Q</tspan></text>
<text font-size="67" transform="translate(1310.50,762.00) scale(1,1.04)"><tspan class="q" font-size="62.88" textLength="53.00" lengthAdjust="spacingAndGlyphs">Q</tspan></text>
<text font-size="67" transform="translate(1363.50,762.00) scale(1,1.04)"><tspan class="q" font-size="62.88" textLength="53.00" lengthAdjust="spacingAndGlyphs">Q</tspan></text>
<text font-size="67" transform="translate(1423.50,765.00) scale(1,1.04)"><tspan class="q" font-size="62.88" textLength="53.00" lengthAdjust="spacingAndGlyphs">Q</tspan></text>
<text font-size="67" transform="translate(1519.60,727.00) scale(1,1.04)"><tspan class="q" font-size="62.88" textLength="53.00" lengthAdjust="spacingAndGlyphs">Q</tspan></text>
<text font-size="67" transform="translate(1621.70,751.90) scale(1,1.04)"><tspan class="q" font-size="62.88" textLength="53.00" lengthAdjust="spacingAndGlyphs">Q</tspan></text>
<text font-size="67" transform="translate(1745.70,743.20) scale(1,1.04)"><tspan class="q" font-size="62.88" textLength="53.00" lengthAdjust="spacingAndGlyphs">Q</tspan></text>
<text font-size="67" transform="translate(1916.30,757.00) scale(1,1.04)"><tspan class="q" font-size="62.88" textLength="53.00" lengthAdjust="spacingAndGlyphs">Q</tspan></text>
<text font-size="67" transform="translate(947.40,198.00) scale(1,1.04)"><tspan class="q" font-size="62.88" textLength="53.00" lengthAdjust="spacingAndGlyphs">Q</tspan><tspan dx="-1.5">, Cr</tspan></text>
<text font-size="67" transform="translate(1039.20,747.00) scale(1,1.04)">M, <tspan dx="-2.2">A</tspan></text>
<text font-size="67" transform="translate(2113.75,704.80) scale(1,0.975)">(iv)</text>
<text font-size="67" transform="translate(2117.55,1169.40) scale(1,0.975)">(iii)</text>
<text font-size="67" transform="translate(2127.65,1337.80) scale(1,0.975)">(ii)</text>
<text font-size="67" transform="translate(2138.85,1467.60) scale(1,0.975)">(i)</text>
<rect x="1691.5" y="123.5" width="478.5" height="324.5" fill="none" stroke="#000" stroke-width="3.5"/>
<text class="b" font-size="63.1" transform="translate(1718.00,190.00) scale(1,1.015)"><tspan class="q" font-size="57.5" textLength="49.7" lengthAdjust="spacingAndGlyphs">Q</tspan>-<tspan class="q" font-size="57.5" textLength="49.7" lengthAdjust="spacingAndGlyphs">Q</tspan>uartz</text>
<text class="b" font-size="63.1" transform="translate(1718.00,270.50) scale(1,1.015)">Cr-Cristobalite</text>
<text class="b" font-size="63.1" transform="translate(1718.00,351.70) scale(1,1.015)">M-Microcline</text>
<text class="b" font-size="63.1" transform="translate(1718.00,432.00) scale(1,1.015)">A-Albite</text>
</g>
</svg>
</body></html>
